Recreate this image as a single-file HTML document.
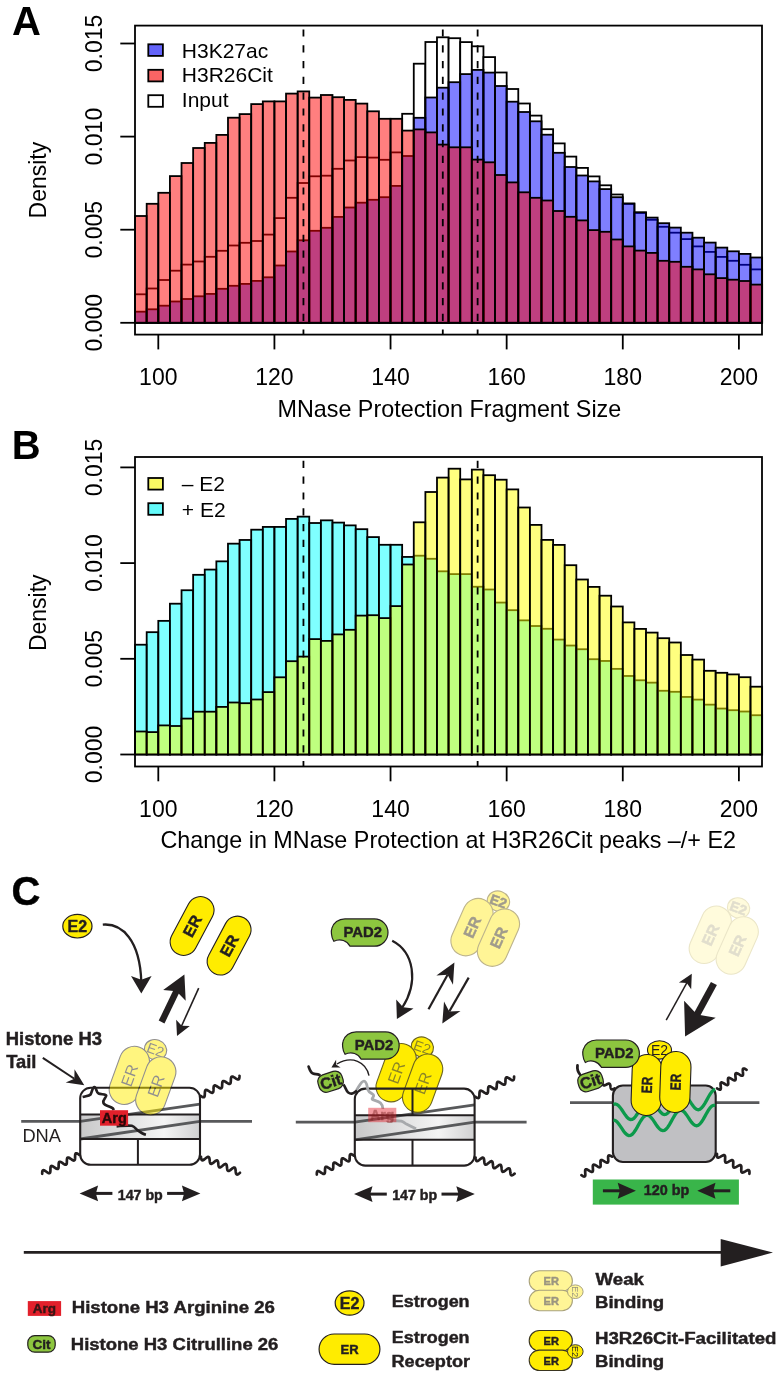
<!DOCTYPE html>
<html><head><meta charset="utf-8"><style>
html,body{margin:0;padding:0;background:#fff;}
svg{display:block;will-change:transform;}
text{font-family:"Liberation Sans", sans-serif;}
</style></head><body>
<svg width="783" height="1379" viewBox="0 0 783 1379">
<rect x="135.08" y="294.30" width="11.612" height="28.50" fill="#fff" fill-opacity="1" stroke="#000" stroke-width="1.8"/>
<rect x="146.69" y="288.50" width="11.612" height="34.30" fill="#fff" fill-opacity="1" stroke="#000" stroke-width="1.8"/>
<rect x="158.30" y="280.00" width="11.612" height="42.80" fill="#fff" fill-opacity="1" stroke="#000" stroke-width="1.8"/>
<rect x="169.92" y="270.70" width="11.612" height="52.10" fill="#fff" fill-opacity="1" stroke="#000" stroke-width="1.8"/>
<rect x="181.53" y="264.60" width="11.612" height="58.20" fill="#fff" fill-opacity="1" stroke="#000" stroke-width="1.8"/>
<rect x="193.14" y="261.50" width="11.612" height="61.30" fill="#fff" fill-opacity="1" stroke="#000" stroke-width="1.8"/>
<rect x="204.75" y="256.80" width="11.612" height="66.00" fill="#fff" fill-opacity="1" stroke="#000" stroke-width="1.8"/>
<rect x="216.36" y="250.80" width="11.612" height="72.00" fill="#fff" fill-opacity="1" stroke="#000" stroke-width="1.8"/>
<rect x="227.98" y="245.50" width="11.612" height="77.30" fill="#fff" fill-opacity="1" stroke="#000" stroke-width="1.8"/>
<rect x="239.59" y="242.80" width="11.612" height="80.00" fill="#fff" fill-opacity="1" stroke="#000" stroke-width="1.8"/>
<rect x="251.20" y="241.00" width="11.612" height="81.80" fill="#fff" fill-opacity="1" stroke="#000" stroke-width="1.8"/>
<rect x="262.81" y="234.60" width="11.612" height="88.20" fill="#fff" fill-opacity="1" stroke="#000" stroke-width="1.8"/>
<rect x="274.42" y="218.10" width="11.612" height="104.70" fill="#fff" fill-opacity="1" stroke="#000" stroke-width="1.8"/>
<rect x="286.04" y="197.80" width="11.612" height="125.00" fill="#fff" fill-opacity="1" stroke="#000" stroke-width="1.8"/>
<rect x="297.65" y="183.00" width="11.612" height="139.80" fill="#fff" fill-opacity="1" stroke="#000" stroke-width="1.8"/>
<rect x="309.26" y="176.30" width="11.612" height="146.50" fill="#fff" fill-opacity="1" stroke="#000" stroke-width="1.8"/>
<rect x="320.87" y="175.70" width="11.612" height="147.10" fill="#fff" fill-opacity="1" stroke="#000" stroke-width="1.8"/>
<rect x="332.48" y="168.80" width="11.612" height="154.00" fill="#fff" fill-opacity="1" stroke="#000" stroke-width="1.8"/>
<rect x="344.10" y="160.50" width="11.612" height="162.30" fill="#fff" fill-opacity="1" stroke="#000" stroke-width="1.8"/>
<rect x="355.71" y="157.10" width="11.612" height="165.70" fill="#fff" fill-opacity="1" stroke="#000" stroke-width="1.8"/>
<rect x="367.32" y="157.60" width="11.612" height="165.20" fill="#fff" fill-opacity="1" stroke="#000" stroke-width="1.8"/>
<rect x="378.93" y="159.80" width="11.612" height="163.00" fill="#fff" fill-opacity="1" stroke="#000" stroke-width="1.8"/>
<rect x="390.54" y="152.40" width="11.612" height="170.40" fill="#fff" fill-opacity="1" stroke="#000" stroke-width="1.8"/>
<rect x="402.16" y="113.80" width="11.612" height="209.00" fill="#fff" fill-opacity="1" stroke="#000" stroke-width="1.8"/>
<rect x="413.77" y="63.70" width="11.612" height="259.10" fill="#fff" fill-opacity="1" stroke="#000" stroke-width="1.8"/>
<rect x="425.38" y="42.00" width="11.612" height="280.80" fill="#fff" fill-opacity="1" stroke="#000" stroke-width="1.8"/>
<rect x="436.99" y="37.30" width="11.612" height="285.50" fill="#fff" fill-opacity="1" stroke="#000" stroke-width="1.8"/>
<rect x="448.60" y="38.20" width="11.612" height="284.60" fill="#fff" fill-opacity="1" stroke="#000" stroke-width="1.8"/>
<rect x="460.22" y="42.10" width="11.612" height="280.70" fill="#fff" fill-opacity="1" stroke="#000" stroke-width="1.8"/>
<rect x="471.83" y="46.30" width="11.612" height="276.50" fill="#fff" fill-opacity="1" stroke="#000" stroke-width="1.8"/>
<rect x="483.44" y="57.10" width="11.612" height="265.70" fill="#fff" fill-opacity="1" stroke="#000" stroke-width="1.8"/>
<rect x="495.05" y="72.50" width="11.612" height="250.30" fill="#fff" fill-opacity="1" stroke="#000" stroke-width="1.8"/>
<rect x="506.66" y="89.00" width="11.612" height="233.80" fill="#fff" fill-opacity="1" stroke="#000" stroke-width="1.8"/>
<rect x="518.28" y="103.50" width="11.612" height="219.30" fill="#fff" fill-opacity="1" stroke="#000" stroke-width="1.8"/>
<rect x="529.89" y="115.60" width="11.612" height="207.20" fill="#fff" fill-opacity="1" stroke="#000" stroke-width="1.8"/>
<rect x="541.50" y="129.20" width="11.612" height="193.60" fill="#fff" fill-opacity="1" stroke="#000" stroke-width="1.8"/>
<rect x="553.11" y="143.40" width="11.612" height="179.40" fill="#fff" fill-opacity="1" stroke="#000" stroke-width="1.8"/>
<rect x="564.72" y="156.60" width="11.612" height="166.20" fill="#fff" fill-opacity="1" stroke="#000" stroke-width="1.8"/>
<rect x="576.34" y="167.90" width="11.612" height="154.90" fill="#fff" fill-opacity="1" stroke="#000" stroke-width="1.8"/>
<rect x="587.95" y="176.40" width="11.612" height="146.40" fill="#fff" fill-opacity="1" stroke="#000" stroke-width="1.8"/>
<rect x="599.56" y="185.30" width="11.612" height="137.50" fill="#fff" fill-opacity="1" stroke="#000" stroke-width="1.8"/>
<rect x="611.17" y="194.50" width="11.612" height="128.30" fill="#fff" fill-opacity="1" stroke="#000" stroke-width="1.8"/>
<rect x="622.78" y="204.00" width="11.612" height="118.80" fill="#fff" fill-opacity="1" stroke="#000" stroke-width="1.8"/>
<rect x="634.40" y="213.00" width="11.612" height="109.80" fill="#fff" fill-opacity="1" stroke="#000" stroke-width="1.8"/>
<rect x="646.01" y="219.80" width="11.612" height="103.00" fill="#fff" fill-opacity="1" stroke="#000" stroke-width="1.8"/>
<rect x="657.62" y="226.80" width="11.612" height="96.00" fill="#fff" fill-opacity="1" stroke="#000" stroke-width="1.8"/>
<rect x="669.23" y="232.70" width="11.612" height="90.10" fill="#fff" fill-opacity="1" stroke="#000" stroke-width="1.8"/>
<rect x="680.84" y="239.10" width="11.612" height="83.70" fill="#fff" fill-opacity="1" stroke="#000" stroke-width="1.8"/>
<rect x="692.46" y="246.40" width="11.612" height="76.40" fill="#fff" fill-opacity="1" stroke="#000" stroke-width="1.8"/>
<rect x="704.07" y="251.90" width="11.612" height="70.90" fill="#fff" fill-opacity="1" stroke="#000" stroke-width="1.8"/>
<rect x="715.68" y="256.90" width="11.612" height="65.90" fill="#fff" fill-opacity="1" stroke="#000" stroke-width="1.8"/>
<rect x="727.29" y="260.80" width="11.612" height="62.00" fill="#fff" fill-opacity="1" stroke="#000" stroke-width="1.8"/>
<rect x="738.90" y="264.80" width="11.612" height="58.00" fill="#fff" fill-opacity="1" stroke="#000" stroke-width="1.8"/>
<rect x="750.52" y="269.40" width="11.612" height="53.40" fill="#fff" fill-opacity="1" stroke="#000" stroke-width="1.8"/>
<rect x="135.08" y="311.70" width="11.612" height="11.10" fill="#0000ff" fill-opacity="0.5" stroke="#000" stroke-width="1.8"/>
<rect x="146.69" y="309.30" width="11.612" height="13.50" fill="#0000ff" fill-opacity="0.5" stroke="#000" stroke-width="1.8"/>
<rect x="158.30" y="305.70" width="11.612" height="17.10" fill="#0000ff" fill-opacity="0.5" stroke="#000" stroke-width="1.8"/>
<rect x="169.92" y="301.50" width="11.612" height="21.30" fill="#0000ff" fill-opacity="0.5" stroke="#000" stroke-width="1.8"/>
<rect x="181.53" y="299.00" width="11.612" height="23.80" fill="#0000ff" fill-opacity="0.5" stroke="#000" stroke-width="1.8"/>
<rect x="193.14" y="296.30" width="11.612" height="26.50" fill="#0000ff" fill-opacity="0.5" stroke="#000" stroke-width="1.8"/>
<rect x="204.75" y="293.90" width="11.612" height="28.90" fill="#0000ff" fill-opacity="0.5" stroke="#000" stroke-width="1.8"/>
<rect x="216.36" y="288.80" width="11.612" height="34.00" fill="#0000ff" fill-opacity="0.5" stroke="#000" stroke-width="1.8"/>
<rect x="227.98" y="285.80" width="11.612" height="37.00" fill="#0000ff" fill-opacity="0.5" stroke="#000" stroke-width="1.8"/>
<rect x="239.59" y="283.90" width="11.612" height="38.90" fill="#0000ff" fill-opacity="0.5" stroke="#000" stroke-width="1.8"/>
<rect x="251.20" y="280.90" width="11.612" height="41.90" fill="#0000ff" fill-opacity="0.5" stroke="#000" stroke-width="1.8"/>
<rect x="262.81" y="277.30" width="11.612" height="45.50" fill="#0000ff" fill-opacity="0.5" stroke="#000" stroke-width="1.8"/>
<rect x="274.42" y="265.50" width="11.612" height="57.30" fill="#0000ff" fill-opacity="0.5" stroke="#000" stroke-width="1.8"/>
<rect x="286.04" y="251.50" width="11.612" height="71.30" fill="#0000ff" fill-opacity="0.5" stroke="#000" stroke-width="1.8"/>
<rect x="297.65" y="240.30" width="11.612" height="82.50" fill="#0000ff" fill-opacity="0.5" stroke="#000" stroke-width="1.8"/>
<rect x="309.26" y="230.80" width="11.612" height="92.00" fill="#0000ff" fill-opacity="0.5" stroke="#000" stroke-width="1.8"/>
<rect x="320.87" y="227.80" width="11.612" height="95.00" fill="#0000ff" fill-opacity="0.5" stroke="#000" stroke-width="1.8"/>
<rect x="332.48" y="216.90" width="11.612" height="105.90" fill="#0000ff" fill-opacity="0.5" stroke="#000" stroke-width="1.8"/>
<rect x="344.10" y="207.50" width="11.612" height="115.30" fill="#0000ff" fill-opacity="0.5" stroke="#000" stroke-width="1.8"/>
<rect x="355.71" y="202.70" width="11.612" height="120.10" fill="#0000ff" fill-opacity="0.5" stroke="#000" stroke-width="1.8"/>
<rect x="367.32" y="199.80" width="11.612" height="123.00" fill="#0000ff" fill-opacity="0.5" stroke="#000" stroke-width="1.8"/>
<rect x="378.93" y="197.20" width="11.612" height="125.60" fill="#0000ff" fill-opacity="0.5" stroke="#000" stroke-width="1.8"/>
<rect x="390.54" y="185.90" width="11.612" height="136.90" fill="#0000ff" fill-opacity="0.5" stroke="#000" stroke-width="1.8"/>
<rect x="402.16" y="156.00" width="11.612" height="166.80" fill="#0000ff" fill-opacity="0.5" stroke="#000" stroke-width="1.8"/>
<rect x="413.77" y="117.80" width="11.612" height="205.00" fill="#0000ff" fill-opacity="0.5" stroke="#000" stroke-width="1.8"/>
<rect x="425.38" y="97.50" width="11.612" height="225.30" fill="#0000ff" fill-opacity="0.5" stroke="#000" stroke-width="1.8"/>
<rect x="436.99" y="87.70" width="11.612" height="235.10" fill="#0000ff" fill-opacity="0.5" stroke="#000" stroke-width="1.8"/>
<rect x="448.60" y="82.20" width="11.612" height="240.60" fill="#0000ff" fill-opacity="0.5" stroke="#000" stroke-width="1.8"/>
<rect x="460.22" y="74.10" width="11.612" height="248.70" fill="#0000ff" fill-opacity="0.5" stroke="#000" stroke-width="1.8"/>
<rect x="471.83" y="69.90" width="11.612" height="252.90" fill="#0000ff" fill-opacity="0.5" stroke="#000" stroke-width="1.8"/>
<rect x="483.44" y="72.60" width="11.612" height="250.20" fill="#0000ff" fill-opacity="0.5" stroke="#000" stroke-width="1.8"/>
<rect x="495.05" y="86.00" width="11.612" height="236.80" fill="#0000ff" fill-opacity="0.5" stroke="#000" stroke-width="1.8"/>
<rect x="506.66" y="101.70" width="11.612" height="221.10" fill="#0000ff" fill-opacity="0.5" stroke="#000" stroke-width="1.8"/>
<rect x="518.28" y="112.00" width="11.612" height="210.80" fill="#0000ff" fill-opacity="0.5" stroke="#000" stroke-width="1.8"/>
<rect x="529.89" y="121.30" width="11.612" height="201.50" fill="#0000ff" fill-opacity="0.5" stroke="#000" stroke-width="1.8"/>
<rect x="541.50" y="134.70" width="11.612" height="188.10" fill="#0000ff" fill-opacity="0.5" stroke="#000" stroke-width="1.8"/>
<rect x="553.11" y="152.80" width="11.612" height="170.00" fill="#0000ff" fill-opacity="0.5" stroke="#000" stroke-width="1.8"/>
<rect x="564.72" y="167.00" width="11.612" height="155.80" fill="#0000ff" fill-opacity="0.5" stroke="#000" stroke-width="1.8"/>
<rect x="576.34" y="175.50" width="11.612" height="147.30" fill="#0000ff" fill-opacity="0.5" stroke="#000" stroke-width="1.8"/>
<rect x="587.95" y="181.40" width="11.612" height="141.40" fill="#0000ff" fill-opacity="0.5" stroke="#000" stroke-width="1.8"/>
<rect x="599.56" y="189.10" width="11.612" height="133.70" fill="#0000ff" fill-opacity="0.5" stroke="#000" stroke-width="1.8"/>
<rect x="611.17" y="197.20" width="11.612" height="125.60" fill="#0000ff" fill-opacity="0.5" stroke="#000" stroke-width="1.8"/>
<rect x="622.78" y="203.40" width="11.612" height="119.40" fill="#0000ff" fill-opacity="0.5" stroke="#000" stroke-width="1.8"/>
<rect x="634.40" y="212.20" width="11.612" height="110.60" fill="#0000ff" fill-opacity="0.5" stroke="#000" stroke-width="1.8"/>
<rect x="646.01" y="217.60" width="11.612" height="105.20" fill="#0000ff" fill-opacity="0.5" stroke="#000" stroke-width="1.8"/>
<rect x="657.62" y="223.20" width="11.612" height="99.60" fill="#0000ff" fill-opacity="0.5" stroke="#000" stroke-width="1.8"/>
<rect x="669.23" y="227.60" width="11.612" height="95.20" fill="#0000ff" fill-opacity="0.5" stroke="#000" stroke-width="1.8"/>
<rect x="680.84" y="232.70" width="11.612" height="90.10" fill="#0000ff" fill-opacity="0.5" stroke="#000" stroke-width="1.8"/>
<rect x="692.46" y="237.70" width="11.612" height="85.10" fill="#0000ff" fill-opacity="0.5" stroke="#000" stroke-width="1.8"/>
<rect x="704.07" y="242.60" width="11.612" height="80.20" fill="#0000ff" fill-opacity="0.5" stroke="#000" stroke-width="1.8"/>
<rect x="715.68" y="247.60" width="11.612" height="75.20" fill="#0000ff" fill-opacity="0.5" stroke="#000" stroke-width="1.8"/>
<rect x="727.29" y="251.30" width="11.612" height="71.50" fill="#0000ff" fill-opacity="0.5" stroke="#000" stroke-width="1.8"/>
<rect x="738.90" y="253.90" width="11.612" height="68.90" fill="#0000ff" fill-opacity="0.5" stroke="#000" stroke-width="1.8"/>
<rect x="750.52" y="257.50" width="11.612" height="65.30" fill="#0000ff" fill-opacity="0.5" stroke="#000" stroke-width="1.8"/>
<rect x="135.08" y="216.00" width="11.612" height="106.80" fill="#ff0000" fill-opacity="0.5" stroke="#000" stroke-width="1.8"/>
<rect x="146.69" y="203.80" width="11.612" height="119.00" fill="#ff0000" fill-opacity="0.5" stroke="#000" stroke-width="1.8"/>
<rect x="158.30" y="192.80" width="11.612" height="130.00" fill="#ff0000" fill-opacity="0.5" stroke="#000" stroke-width="1.8"/>
<rect x="169.92" y="176.10" width="11.612" height="146.70" fill="#ff0000" fill-opacity="0.5" stroke="#000" stroke-width="1.8"/>
<rect x="181.53" y="163.00" width="11.612" height="159.80" fill="#ff0000" fill-opacity="0.5" stroke="#000" stroke-width="1.8"/>
<rect x="193.14" y="148.00" width="11.612" height="174.80" fill="#ff0000" fill-opacity="0.5" stroke="#000" stroke-width="1.8"/>
<rect x="204.75" y="142.90" width="11.612" height="179.90" fill="#ff0000" fill-opacity="0.5" stroke="#000" stroke-width="1.8"/>
<rect x="216.36" y="134.90" width="11.612" height="187.90" fill="#ff0000" fill-opacity="0.5" stroke="#000" stroke-width="1.8"/>
<rect x="227.98" y="117.70" width="11.612" height="205.10" fill="#ff0000" fill-opacity="0.5" stroke="#000" stroke-width="1.8"/>
<rect x="239.59" y="114.10" width="11.612" height="208.70" fill="#ff0000" fill-opacity="0.5" stroke="#000" stroke-width="1.8"/>
<rect x="251.20" y="104.10" width="11.612" height="218.70" fill="#ff0000" fill-opacity="0.5" stroke="#000" stroke-width="1.8"/>
<rect x="262.81" y="101.40" width="11.612" height="221.40" fill="#ff0000" fill-opacity="0.5" stroke="#000" stroke-width="1.8"/>
<rect x="274.42" y="101.40" width="11.612" height="221.40" fill="#ff0000" fill-opacity="0.5" stroke="#000" stroke-width="1.8"/>
<rect x="286.04" y="93.60" width="11.612" height="229.20" fill="#ff0000" fill-opacity="0.5" stroke="#000" stroke-width="1.8"/>
<rect x="297.65" y="91.40" width="11.612" height="231.40" fill="#ff0000" fill-opacity="0.5" stroke="#000" stroke-width="1.8"/>
<rect x="309.26" y="97.60" width="11.612" height="225.20" fill="#ff0000" fill-opacity="0.5" stroke="#000" stroke-width="1.8"/>
<rect x="320.87" y="95.00" width="11.612" height="227.80" fill="#ff0000" fill-opacity="0.5" stroke="#000" stroke-width="1.8"/>
<rect x="332.48" y="97.20" width="11.612" height="225.60" fill="#ff0000" fill-opacity="0.5" stroke="#000" stroke-width="1.8"/>
<rect x="344.10" y="99.90" width="11.612" height="222.90" fill="#ff0000" fill-opacity="0.5" stroke="#000" stroke-width="1.8"/>
<rect x="355.71" y="103.60" width="11.612" height="219.20" fill="#ff0000" fill-opacity="0.5" stroke="#000" stroke-width="1.8"/>
<rect x="367.32" y="111.30" width="11.612" height="211.50" fill="#ff0000" fill-opacity="0.5" stroke="#000" stroke-width="1.8"/>
<rect x="378.93" y="118.80" width="11.612" height="204.00" fill="#ff0000" fill-opacity="0.5" stroke="#000" stroke-width="1.8"/>
<rect x="390.54" y="118.80" width="11.612" height="204.00" fill="#ff0000" fill-opacity="0.5" stroke="#000" stroke-width="1.8"/>
<rect x="402.16" y="130.60" width="11.612" height="192.20" fill="#ff0000" fill-opacity="0.5" stroke="#000" stroke-width="1.8"/>
<rect x="413.77" y="129.40" width="11.612" height="193.40" fill="#ff0000" fill-opacity="0.5" stroke="#000" stroke-width="1.8"/>
<rect x="425.38" y="132.40" width="11.612" height="190.40" fill="#ff0000" fill-opacity="0.5" stroke="#000" stroke-width="1.8"/>
<rect x="436.99" y="144.60" width="11.612" height="178.20" fill="#ff0000" fill-opacity="0.5" stroke="#000" stroke-width="1.8"/>
<rect x="448.60" y="147.30" width="11.612" height="175.50" fill="#ff0000" fill-opacity="0.5" stroke="#000" stroke-width="1.8"/>
<rect x="460.22" y="147.30" width="11.612" height="175.50" fill="#ff0000" fill-opacity="0.5" stroke="#000" stroke-width="1.8"/>
<rect x="471.83" y="159.60" width="11.612" height="163.20" fill="#ff0000" fill-opacity="0.5" stroke="#000" stroke-width="1.8"/>
<rect x="483.44" y="162.30" width="11.612" height="160.50" fill="#ff0000" fill-opacity="0.5" stroke="#000" stroke-width="1.8"/>
<rect x="495.05" y="175.00" width="11.612" height="147.80" fill="#ff0000" fill-opacity="0.5" stroke="#000" stroke-width="1.8"/>
<rect x="506.66" y="182.40" width="11.612" height="140.40" fill="#ff0000" fill-opacity="0.5" stroke="#000" stroke-width="1.8"/>
<rect x="518.28" y="192.30" width="11.612" height="130.50" fill="#ff0000" fill-opacity="0.5" stroke="#000" stroke-width="1.8"/>
<rect x="529.89" y="197.80" width="11.612" height="125.00" fill="#ff0000" fill-opacity="0.5" stroke="#000" stroke-width="1.8"/>
<rect x="541.50" y="200.50" width="11.612" height="122.30" fill="#ff0000" fill-opacity="0.5" stroke="#000" stroke-width="1.8"/>
<rect x="553.11" y="211.00" width="11.612" height="111.80" fill="#ff0000" fill-opacity="0.5" stroke="#000" stroke-width="1.8"/>
<rect x="564.72" y="216.80" width="11.612" height="106.00" fill="#ff0000" fill-opacity="0.5" stroke="#000" stroke-width="1.8"/>
<rect x="576.34" y="220.40" width="11.612" height="102.40" fill="#ff0000" fill-opacity="0.5" stroke="#000" stroke-width="1.8"/>
<rect x="587.95" y="230.10" width="11.612" height="92.70" fill="#ff0000" fill-opacity="0.5" stroke="#000" stroke-width="1.8"/>
<rect x="599.56" y="231.80" width="11.612" height="91.00" fill="#ff0000" fill-opacity="0.5" stroke="#000" stroke-width="1.8"/>
<rect x="611.17" y="239.50" width="11.612" height="83.30" fill="#ff0000" fill-opacity="0.5" stroke="#000" stroke-width="1.8"/>
<rect x="622.78" y="246.40" width="11.612" height="76.40" fill="#ff0000" fill-opacity="0.5" stroke="#000" stroke-width="1.8"/>
<rect x="634.40" y="250.60" width="11.612" height="72.20" fill="#ff0000" fill-opacity="0.5" stroke="#000" stroke-width="1.8"/>
<rect x="646.01" y="252.90" width="11.612" height="69.90" fill="#ff0000" fill-opacity="0.5" stroke="#000" stroke-width="1.8"/>
<rect x="657.62" y="260.80" width="11.612" height="62.00" fill="#ff0000" fill-opacity="0.5" stroke="#000" stroke-width="1.8"/>
<rect x="669.23" y="261.80" width="11.612" height="61.00" fill="#ff0000" fill-opacity="0.5" stroke="#000" stroke-width="1.8"/>
<rect x="680.84" y="266.80" width="11.612" height="56.00" fill="#ff0000" fill-opacity="0.5" stroke="#000" stroke-width="1.8"/>
<rect x="692.46" y="269.40" width="11.612" height="53.40" fill="#ff0000" fill-opacity="0.5" stroke="#000" stroke-width="1.8"/>
<rect x="704.07" y="274.30" width="11.612" height="48.50" fill="#ff0000" fill-opacity="0.5" stroke="#000" stroke-width="1.8"/>
<rect x="715.68" y="278.10" width="11.612" height="44.70" fill="#ff0000" fill-opacity="0.5" stroke="#000" stroke-width="1.8"/>
<rect x="727.29" y="279.70" width="11.612" height="43.10" fill="#ff0000" fill-opacity="0.5" stroke="#000" stroke-width="1.8"/>
<rect x="738.90" y="281.00" width="11.612" height="41.80" fill="#ff0000" fill-opacity="0.5" stroke="#000" stroke-width="1.8"/>
<rect x="750.52" y="284.60" width="11.612" height="38.20" fill="#ff0000" fill-opacity="0.5" stroke="#000" stroke-width="1.8"/>
<line x1="303.45" y1="25.6" x2="303.45" y2="334.6" stroke="#000" stroke-width="1.8" stroke-dasharray="7.2 8.6" stroke-dashoffset="12.0"/>
<line x1="442.79" y1="25.6" x2="442.79" y2="334.6" stroke="#000" stroke-width="1.8" stroke-dasharray="7.2 8.6" stroke-dashoffset="12.0"/>
<line x1="477.63" y1="25.6" x2="477.63" y2="334.6" stroke="#000" stroke-width="1.8" stroke-dasharray="7.2 8.6" stroke-dashoffset="12.0"/>
<rect x="135" y="25.6" width="627" height="309.00" fill="none" stroke="#000" stroke-width="1.8"/>
<line x1="120.3" y1="322.80" x2="135" y2="322.80" stroke="#000" stroke-width="1.8"/>
<text transform="translate(102,322.80) rotate(-90)" text-anchor="middle" font-size="23">0.000</text>
<line x1="120.3" y1="229.70" x2="135" y2="229.70" stroke="#000" stroke-width="1.8"/>
<text transform="translate(102,229.70) rotate(-90)" text-anchor="middle" font-size="23">0.005</text>
<line x1="120.3" y1="136.60" x2="135" y2="136.60" stroke="#000" stroke-width="1.8"/>
<text transform="translate(102,136.60) rotate(-90)" text-anchor="middle" font-size="23">0.010</text>
<line x1="120.3" y1="43.50" x2="135" y2="43.50" stroke="#000" stroke-width="1.8"/>
<text transform="translate(102,43.50) rotate(-90)" text-anchor="middle" font-size="23">0.015</text>
<line x1="158.30" y1="334.6" x2="158.30" y2="349.40" stroke="#000" stroke-width="1.8"/>
<text x="158.30" y="384.8" text-anchor="middle" font-size="23">100</text>
<line x1="274.42" y1="334.6" x2="274.42" y2="349.40" stroke="#000" stroke-width="1.8"/>
<text x="274.42" y="384.8" text-anchor="middle" font-size="23">120</text>
<line x1="390.54" y1="334.6" x2="390.54" y2="349.40" stroke="#000" stroke-width="1.8"/>
<text x="390.54" y="384.8" text-anchor="middle" font-size="23">140</text>
<line x1="506.66" y1="334.6" x2="506.66" y2="349.40" stroke="#000" stroke-width="1.8"/>
<text x="506.66" y="384.8" text-anchor="middle" font-size="23">160</text>
<line x1="622.78" y1="334.6" x2="622.78" y2="349.40" stroke="#000" stroke-width="1.8"/>
<text x="622.78" y="384.8" text-anchor="middle" font-size="23">180</text>
<line x1="738.90" y1="334.6" x2="738.90" y2="349.40" stroke="#000" stroke-width="1.8"/>
<text x="738.90" y="384.8" text-anchor="middle" font-size="23">200</text>
<text transform="translate(45.5,180.10) rotate(-90)" text-anchor="middle" font-size="23">Density</text>
<text x="449.35" y="416.8" text-anchor="middle" font-size="23.2" textLength="343.8" lengthAdjust="spacingAndGlyphs">MNase Protection Fragment Size</text>
<text x="12" y="34.8" font-size="40" font-weight="bold">A</text>
<rect x="148.3" y="44.30" width="14.6" height="11.6" fill="#6464fa" stroke="#000" stroke-width="1.8"/>
<text x="181.8" y="57.5" font-size="21">H3K27ac</text>
<rect x="148.3" y="69.80" width="14.6" height="11.6" fill="#fa6464" stroke="#000" stroke-width="1.8"/>
<text x="181.8" y="82.1" font-size="21">H3R26Cit</text>
<rect x="148.3" y="95.20" width="14.6" height="11.6" fill="#fff" stroke="#000" stroke-width="1.8"/>
<text x="181.8" y="107.4" font-size="21">Input</text>
<rect x="135.08" y="644.72" width="11.612" height="109.78" fill="#00ffff" fill-opacity="0.5" stroke="#000" stroke-width="1.8"/>
<rect x="146.69" y="632.18" width="11.612" height="122.32" fill="#00ffff" fill-opacity="0.5" stroke="#000" stroke-width="1.8"/>
<rect x="158.30" y="620.87" width="11.612" height="133.63" fill="#00ffff" fill-opacity="0.5" stroke="#000" stroke-width="1.8"/>
<rect x="169.92" y="603.70" width="11.612" height="150.80" fill="#00ffff" fill-opacity="0.5" stroke="#000" stroke-width="1.8"/>
<rect x="181.53" y="590.24" width="11.612" height="164.26" fill="#00ffff" fill-opacity="0.5" stroke="#000" stroke-width="1.8"/>
<rect x="193.14" y="574.82" width="11.612" height="179.68" fill="#00ffff" fill-opacity="0.5" stroke="#000" stroke-width="1.8"/>
<rect x="204.75" y="569.58" width="11.612" height="184.92" fill="#00ffff" fill-opacity="0.5" stroke="#000" stroke-width="1.8"/>
<rect x="216.36" y="561.35" width="11.612" height="193.15" fill="#00ffff" fill-opacity="0.5" stroke="#000" stroke-width="1.8"/>
<rect x="227.98" y="543.67" width="11.612" height="210.83" fill="#00ffff" fill-opacity="0.5" stroke="#000" stroke-width="1.8"/>
<rect x="239.59" y="539.97" width="11.612" height="214.53" fill="#00ffff" fill-opacity="0.5" stroke="#000" stroke-width="1.8"/>
<rect x="251.20" y="529.69" width="11.612" height="224.81" fill="#00ffff" fill-opacity="0.5" stroke="#000" stroke-width="1.8"/>
<rect x="262.81" y="526.92" width="11.612" height="227.58" fill="#00ffff" fill-opacity="0.5" stroke="#000" stroke-width="1.8"/>
<rect x="274.42" y="526.92" width="11.612" height="227.58" fill="#00ffff" fill-opacity="0.5" stroke="#000" stroke-width="1.8"/>
<rect x="286.04" y="518.90" width="11.612" height="235.60" fill="#00ffff" fill-opacity="0.5" stroke="#000" stroke-width="1.8"/>
<rect x="297.65" y="516.64" width="11.612" height="237.86" fill="#00ffff" fill-opacity="0.5" stroke="#000" stroke-width="1.8"/>
<rect x="309.26" y="523.01" width="11.612" height="231.49" fill="#00ffff" fill-opacity="0.5" stroke="#000" stroke-width="1.8"/>
<rect x="320.87" y="520.34" width="11.612" height="234.16" fill="#00ffff" fill-opacity="0.5" stroke="#000" stroke-width="1.8"/>
<rect x="332.48" y="522.60" width="11.612" height="231.90" fill="#00ffff" fill-opacity="0.5" stroke="#000" stroke-width="1.8"/>
<rect x="344.10" y="525.38" width="11.612" height="229.12" fill="#00ffff" fill-opacity="0.5" stroke="#000" stroke-width="1.8"/>
<rect x="355.71" y="529.18" width="11.612" height="225.32" fill="#00ffff" fill-opacity="0.5" stroke="#000" stroke-width="1.8"/>
<rect x="367.32" y="537.09" width="11.612" height="217.41" fill="#00ffff" fill-opacity="0.5" stroke="#000" stroke-width="1.8"/>
<rect x="378.93" y="544.80" width="11.612" height="209.70" fill="#00ffff" fill-opacity="0.5" stroke="#000" stroke-width="1.8"/>
<rect x="390.54" y="544.80" width="11.612" height="209.70" fill="#00ffff" fill-opacity="0.5" stroke="#000" stroke-width="1.8"/>
<rect x="402.16" y="556.93" width="11.612" height="197.57" fill="#00ffff" fill-opacity="0.5" stroke="#000" stroke-width="1.8"/>
<rect x="413.77" y="555.70" width="11.612" height="198.80" fill="#00ffff" fill-opacity="0.5" stroke="#000" stroke-width="1.8"/>
<rect x="425.38" y="558.78" width="11.612" height="195.72" fill="#00ffff" fill-opacity="0.5" stroke="#000" stroke-width="1.8"/>
<rect x="436.99" y="571.32" width="11.612" height="183.18" fill="#00ffff" fill-opacity="0.5" stroke="#000" stroke-width="1.8"/>
<rect x="448.60" y="574.10" width="11.612" height="180.40" fill="#00ffff" fill-opacity="0.5" stroke="#000" stroke-width="1.8"/>
<rect x="460.22" y="574.10" width="11.612" height="180.40" fill="#00ffff" fill-opacity="0.5" stroke="#000" stroke-width="1.8"/>
<rect x="471.83" y="586.74" width="11.612" height="167.76" fill="#00ffff" fill-opacity="0.5" stroke="#000" stroke-width="1.8"/>
<rect x="483.44" y="589.52" width="11.612" height="164.98" fill="#00ffff" fill-opacity="0.5" stroke="#000" stroke-width="1.8"/>
<rect x="495.05" y="602.57" width="11.612" height="151.93" fill="#00ffff" fill-opacity="0.5" stroke="#000" stroke-width="1.8"/>
<rect x="506.66" y="610.18" width="11.612" height="144.32" fill="#00ffff" fill-opacity="0.5" stroke="#000" stroke-width="1.8"/>
<rect x="518.28" y="620.36" width="11.612" height="134.14" fill="#00ffff" fill-opacity="0.5" stroke="#000" stroke-width="1.8"/>
<rect x="529.89" y="626.01" width="11.612" height="128.49" fill="#00ffff" fill-opacity="0.5" stroke="#000" stroke-width="1.8"/>
<rect x="541.50" y="628.78" width="11.612" height="125.72" fill="#00ffff" fill-opacity="0.5" stroke="#000" stroke-width="1.8"/>
<rect x="553.11" y="639.58" width="11.612" height="114.92" fill="#00ffff" fill-opacity="0.5" stroke="#000" stroke-width="1.8"/>
<rect x="564.72" y="645.54" width="11.612" height="108.96" fill="#00ffff" fill-opacity="0.5" stroke="#000" stroke-width="1.8"/>
<rect x="576.34" y="649.24" width="11.612" height="105.26" fill="#00ffff" fill-opacity="0.5" stroke="#000" stroke-width="1.8"/>
<rect x="587.95" y="659.21" width="11.612" height="95.29" fill="#00ffff" fill-opacity="0.5" stroke="#000" stroke-width="1.8"/>
<rect x="599.56" y="660.96" width="11.612" height="93.54" fill="#00ffff" fill-opacity="0.5" stroke="#000" stroke-width="1.8"/>
<rect x="611.17" y="668.87" width="11.612" height="85.63" fill="#00ffff" fill-opacity="0.5" stroke="#000" stroke-width="1.8"/>
<rect x="622.78" y="675.97" width="11.612" height="78.53" fill="#00ffff" fill-opacity="0.5" stroke="#000" stroke-width="1.8"/>
<rect x="634.40" y="680.28" width="11.612" height="74.22" fill="#00ffff" fill-opacity="0.5" stroke="#000" stroke-width="1.8"/>
<rect x="646.01" y="682.65" width="11.612" height="71.85" fill="#00ffff" fill-opacity="0.5" stroke="#000" stroke-width="1.8"/>
<rect x="657.62" y="690.77" width="11.612" height="63.73" fill="#00ffff" fill-opacity="0.5" stroke="#000" stroke-width="1.8"/>
<rect x="669.23" y="691.80" width="11.612" height="62.70" fill="#00ffff" fill-opacity="0.5" stroke="#000" stroke-width="1.8"/>
<rect x="680.84" y="696.94" width="11.612" height="57.56" fill="#00ffff" fill-opacity="0.5" stroke="#000" stroke-width="1.8"/>
<rect x="692.46" y="699.61" width="11.612" height="54.89" fill="#00ffff" fill-opacity="0.5" stroke="#000" stroke-width="1.8"/>
<rect x="704.07" y="704.65" width="11.612" height="49.85" fill="#00ffff" fill-opacity="0.5" stroke="#000" stroke-width="1.8"/>
<rect x="715.68" y="708.55" width="11.612" height="45.95" fill="#00ffff" fill-opacity="0.5" stroke="#000" stroke-width="1.8"/>
<rect x="727.29" y="710.20" width="11.612" height="44.30" fill="#00ffff" fill-opacity="0.5" stroke="#000" stroke-width="1.8"/>
<rect x="738.90" y="711.53" width="11.612" height="42.97" fill="#00ffff" fill-opacity="0.5" stroke="#000" stroke-width="1.8"/>
<rect x="750.52" y="715.23" width="11.612" height="39.27" fill="#00ffff" fill-opacity="0.5" stroke="#000" stroke-width="1.8"/>
<rect x="135.08" y="731.50" width="11.612" height="23.00" fill="#ffff00" fill-opacity="0.5" stroke="#000" stroke-width="1.8"/>
<rect x="146.69" y="732.10" width="11.612" height="22.40" fill="#ffff00" fill-opacity="0.5" stroke="#000" stroke-width="1.8"/>
<rect x="158.30" y="725.40" width="11.612" height="29.10" fill="#ffff00" fill-opacity="0.5" stroke="#000" stroke-width="1.8"/>
<rect x="169.92" y="726.00" width="11.612" height="28.50" fill="#ffff00" fill-opacity="0.5" stroke="#000" stroke-width="1.8"/>
<rect x="181.53" y="718.60" width="11.612" height="35.90" fill="#ffff00" fill-opacity="0.5" stroke="#000" stroke-width="1.8"/>
<rect x="193.14" y="711.70" width="11.612" height="42.80" fill="#ffff00" fill-opacity="0.5" stroke="#000" stroke-width="1.8"/>
<rect x="204.75" y="711.70" width="11.612" height="42.80" fill="#ffff00" fill-opacity="0.5" stroke="#000" stroke-width="1.8"/>
<rect x="216.36" y="706.90" width="11.612" height="47.60" fill="#ffff00" fill-opacity="0.5" stroke="#000" stroke-width="1.8"/>
<rect x="227.98" y="702.50" width="11.612" height="52.00" fill="#ffff00" fill-opacity="0.5" stroke="#000" stroke-width="1.8"/>
<rect x="239.59" y="703.20" width="11.612" height="51.30" fill="#ffff00" fill-opacity="0.5" stroke="#000" stroke-width="1.8"/>
<rect x="251.20" y="699.50" width="11.612" height="55.00" fill="#ffff00" fill-opacity="0.5" stroke="#000" stroke-width="1.8"/>
<rect x="262.81" y="692.10" width="11.612" height="62.40" fill="#ffff00" fill-opacity="0.5" stroke="#000" stroke-width="1.8"/>
<rect x="274.42" y="677.30" width="11.612" height="77.20" fill="#ffff00" fill-opacity="0.5" stroke="#000" stroke-width="1.8"/>
<rect x="286.04" y="661.20" width="11.612" height="93.30" fill="#ffff00" fill-opacity="0.5" stroke="#000" stroke-width="1.8"/>
<rect x="297.65" y="656.60" width="11.612" height="97.90" fill="#ffff00" fill-opacity="0.5" stroke="#000" stroke-width="1.8"/>
<rect x="309.26" y="639.10" width="11.612" height="115.40" fill="#ffff00" fill-opacity="0.5" stroke="#000" stroke-width="1.8"/>
<rect x="320.87" y="640.90" width="11.612" height="113.60" fill="#ffff00" fill-opacity="0.5" stroke="#000" stroke-width="1.8"/>
<rect x="332.48" y="634.40" width="11.612" height="120.10" fill="#ffff00" fill-opacity="0.5" stroke="#000" stroke-width="1.8"/>
<rect x="344.10" y="629.80" width="11.612" height="124.70" fill="#ffff00" fill-opacity="0.5" stroke="#000" stroke-width="1.8"/>
<rect x="355.71" y="615.60" width="11.612" height="138.90" fill="#ffff00" fill-opacity="0.5" stroke="#000" stroke-width="1.8"/>
<rect x="367.32" y="615.20" width="11.612" height="139.30" fill="#ffff00" fill-opacity="0.5" stroke="#000" stroke-width="1.8"/>
<rect x="378.93" y="618.10" width="11.612" height="136.40" fill="#ffff00" fill-opacity="0.5" stroke="#000" stroke-width="1.8"/>
<rect x="390.54" y="606.10" width="11.612" height="148.40" fill="#ffff00" fill-opacity="0.5" stroke="#000" stroke-width="1.8"/>
<rect x="402.16" y="564.50" width="11.612" height="190.00" fill="#ffff00" fill-opacity="0.5" stroke="#000" stroke-width="1.8"/>
<rect x="413.77" y="522.30" width="11.612" height="232.20" fill="#ffff00" fill-opacity="0.5" stroke="#000" stroke-width="1.8"/>
<rect x="425.38" y="492.00" width="11.612" height="262.50" fill="#ffff00" fill-opacity="0.5" stroke="#000" stroke-width="1.8"/>
<rect x="436.99" y="477.60" width="11.612" height="276.90" fill="#ffff00" fill-opacity="0.5" stroke="#000" stroke-width="1.8"/>
<rect x="448.60" y="468.70" width="11.612" height="285.80" fill="#ffff00" fill-opacity="0.5" stroke="#000" stroke-width="1.8"/>
<rect x="460.22" y="479.40" width="11.612" height="275.10" fill="#ffff00" fill-opacity="0.5" stroke="#000" stroke-width="1.8"/>
<rect x="471.83" y="469.60" width="11.612" height="284.90" fill="#ffff00" fill-opacity="0.5" stroke="#000" stroke-width="1.8"/>
<rect x="483.44" y="475.20" width="11.612" height="279.30" fill="#ffff00" fill-opacity="0.5" stroke="#000" stroke-width="1.8"/>
<rect x="495.05" y="479.70" width="11.612" height="274.80" fill="#ffff00" fill-opacity="0.5" stroke="#000" stroke-width="1.8"/>
<rect x="506.66" y="489.40" width="11.612" height="265.10" fill="#ffff00" fill-opacity="0.5" stroke="#000" stroke-width="1.8"/>
<rect x="518.28" y="507.50" width="11.612" height="247.00" fill="#ffff00" fill-opacity="0.5" stroke="#000" stroke-width="1.8"/>
<rect x="529.89" y="524.90" width="11.612" height="229.60" fill="#ffff00" fill-opacity="0.5" stroke="#000" stroke-width="1.8"/>
<rect x="541.50" y="539.90" width="11.612" height="214.60" fill="#ffff00" fill-opacity="0.5" stroke="#000" stroke-width="1.8"/>
<rect x="553.11" y="544.90" width="11.612" height="209.60" fill="#ffff00" fill-opacity="0.5" stroke="#000" stroke-width="1.8"/>
<rect x="564.72" y="565.20" width="11.612" height="189.30" fill="#ffff00" fill-opacity="0.5" stroke="#000" stroke-width="1.8"/>
<rect x="576.34" y="579.50" width="11.612" height="175.00" fill="#ffff00" fill-opacity="0.5" stroke="#000" stroke-width="1.8"/>
<rect x="587.95" y="586.90" width="11.612" height="167.60" fill="#ffff00" fill-opacity="0.5" stroke="#000" stroke-width="1.8"/>
<rect x="599.56" y="595.70" width="11.612" height="158.80" fill="#ffff00" fill-opacity="0.5" stroke="#000" stroke-width="1.8"/>
<rect x="611.17" y="606.50" width="11.612" height="148.00" fill="#ffff00" fill-opacity="0.5" stroke="#000" stroke-width="1.8"/>
<rect x="622.78" y="622.40" width="11.612" height="132.10" fill="#ffff00" fill-opacity="0.5" stroke="#000" stroke-width="1.8"/>
<rect x="634.40" y="628.90" width="11.612" height="125.60" fill="#ffff00" fill-opacity="0.5" stroke="#000" stroke-width="1.8"/>
<rect x="646.01" y="632.60" width="11.612" height="121.90" fill="#ffff00" fill-opacity="0.5" stroke="#000" stroke-width="1.8"/>
<rect x="657.62" y="638.20" width="11.612" height="116.30" fill="#ffff00" fill-opacity="0.5" stroke="#000" stroke-width="1.8"/>
<rect x="669.23" y="642.50" width="11.612" height="112.00" fill="#ffff00" fill-opacity="0.5" stroke="#000" stroke-width="1.8"/>
<rect x="680.84" y="655.00" width="11.612" height="99.50" fill="#ffff00" fill-opacity="0.5" stroke="#000" stroke-width="1.8"/>
<rect x="692.46" y="659.60" width="11.612" height="94.90" fill="#ffff00" fill-opacity="0.5" stroke="#000" stroke-width="1.8"/>
<rect x="704.07" y="670.80" width="11.612" height="83.70" fill="#ffff00" fill-opacity="0.5" stroke="#000" stroke-width="1.8"/>
<rect x="715.68" y="672.80" width="11.612" height="81.70" fill="#ffff00" fill-opacity="0.5" stroke="#000" stroke-width="1.8"/>
<rect x="727.29" y="674.40" width="11.612" height="80.10" fill="#ffff00" fill-opacity="0.5" stroke="#000" stroke-width="1.8"/>
<rect x="738.90" y="677.20" width="11.612" height="77.30" fill="#ffff00" fill-opacity="0.5" stroke="#000" stroke-width="1.8"/>
<rect x="750.52" y="686.70" width="11.612" height="67.80" fill="#ffff00" fill-opacity="0.5" stroke="#000" stroke-width="1.8"/>
<line x1="303.45" y1="457.0" x2="303.45" y2="766.5" stroke="#000" stroke-width="1.8" stroke-dasharray="7.2 8.6" stroke-dashoffset="12.0"/>
<line x1="477.63" y1="457.0" x2="477.63" y2="766.5" stroke="#000" stroke-width="1.8" stroke-dasharray="7.2 8.6" stroke-dashoffset="12.0"/>
<rect x="135" y="457.0" width="627" height="309.50" fill="none" stroke="#000" stroke-width="1.8"/>
<line x1="120.3" y1="754.50" x2="135" y2="754.50" stroke="#000" stroke-width="1.8"/>
<text transform="translate(102,754.50) rotate(-90)" text-anchor="middle" font-size="23">0.000</text>
<line x1="120.3" y1="658.80" x2="135" y2="658.80" stroke="#000" stroke-width="1.8"/>
<text transform="translate(102,658.80) rotate(-90)" text-anchor="middle" font-size="23">0.005</text>
<line x1="120.3" y1="563.10" x2="135" y2="563.10" stroke="#000" stroke-width="1.8"/>
<text transform="translate(102,563.10) rotate(-90)" text-anchor="middle" font-size="23">0.010</text>
<line x1="120.3" y1="467.40" x2="135" y2="467.40" stroke="#000" stroke-width="1.8"/>
<text transform="translate(102,467.40) rotate(-90)" text-anchor="middle" font-size="23">0.015</text>
<line x1="158.30" y1="766.5" x2="158.30" y2="781.30" stroke="#000" stroke-width="1.8"/>
<text x="158.30" y="816.8" text-anchor="middle" font-size="23">100</text>
<line x1="274.42" y1="766.5" x2="274.42" y2="781.30" stroke="#000" stroke-width="1.8"/>
<text x="274.42" y="816.8" text-anchor="middle" font-size="23">120</text>
<line x1="390.54" y1="766.5" x2="390.54" y2="781.30" stroke="#000" stroke-width="1.8"/>
<text x="390.54" y="816.8" text-anchor="middle" font-size="23">140</text>
<line x1="506.66" y1="766.5" x2="506.66" y2="781.30" stroke="#000" stroke-width="1.8"/>
<text x="506.66" y="816.8" text-anchor="middle" font-size="23">160</text>
<line x1="622.78" y1="766.5" x2="622.78" y2="781.30" stroke="#000" stroke-width="1.8"/>
<text x="622.78" y="816.8" text-anchor="middle" font-size="23">180</text>
<line x1="738.90" y1="766.5" x2="738.90" y2="781.30" stroke="#000" stroke-width="1.8"/>
<text x="738.90" y="816.8" text-anchor="middle" font-size="23">200</text>
<text transform="translate(45.5,612.75) rotate(-90)" text-anchor="middle" font-size="23">Density</text>
<text x="448.25" y="848.4" text-anchor="middle" font-size="23.2" textLength="575.6" lengthAdjust="spacingAndGlyphs">Change in MNase Protection at H3R26Cit peaks –/+ E2</text>
<text x="11.7" y="458.7" font-size="40" font-weight="bold">B</text>
<rect x="148.3" y="478.00" width="14.6" height="11.6" fill="#fafa64" stroke="#000" stroke-width="1.8"/>
<text x="181.8" y="491.3" font-size="21">– E2</text>
<rect x="148.3" y="503.20" width="14.6" height="11.6" fill="#64fafa" stroke="#000" stroke-width="1.8"/>
<text x="181.8" y="516.5" font-size="21">+ E2</text>
<text x="11.5" y="904.5" font-size="40" font-weight="bold" fill="#000" stroke="#000" stroke-width="0.45">C</text>
<g opacity="1"><ellipse cx="77.40" cy="926.20" rx="14.6" ry="11.8" fill="#ffec00" stroke="#231f20" stroke-width="1.2" transform="rotate(0 77.40 926.20)"/>
<text transform="translate(77.40,926.20) rotate(0)" y="5.76" text-anchor="middle" font-size="16" font-weight="bold" fill="#231f20" stroke="#231f20" stroke-width="0.45">E2</text>
</g>
<path d="M102.8,924.6 C122,923 140,940 141.3,982" fill="none" stroke="#231f20" stroke-width="2.3"/>
<polygon points="141.30,993.50 131.00,976.00 141.30,979.67 151.60,976.00" fill="#231f20" />
<g opacity="1"><rect x="160.60" y="912.50" width="63.00" height="27.00" rx="13.50" fill="#ffec00" stroke="#231f20" stroke-width="1.1" stroke-opacity="1" transform="rotate(-62 192.10 926.00)"/>
<text transform="translate(192.10,926.00) rotate(-62)" y="5.76" text-anchor="middle" font-size="16" font-weight="bold" fill="#231f20" stroke="#231f20" stroke-width="0.45">ER</text>
</g>
<g opacity="1"><rect x="197.60" y="932.10" width="63.00" height="27.00" rx="13.50" fill="#ffec00" stroke="#231f20" stroke-width="1.1" stroke-opacity="1" transform="rotate(-62 229.10 945.60)"/>
<text transform="translate(229.10,945.60) rotate(-62)" y="5.76" text-anchor="middle" font-size="16" font-weight="bold" fill="#231f20" stroke="#231f20" stroke-width="0.45">ER</text>
</g>
<line x1="161.60" y1="1022.00" x2="177.42" y2="989.11" stroke="#231f20" stroke-width="6.4" />
<polygon points="184.40,974.60 185.69,1000.75 176.42,991.18 163.17,989.91" fill="#231f20" />
<line x1="198.70" y1="988.20" x2="181.20" y2="1026.76" stroke="#231f20" stroke-width="1.6" />
<polygon points="177.00,1036.00 176.16,1019.70 181.68,1025.70 189.82,1025.90" fill="#231f20" />
<defs><linearGradient id="g1" x1="0" x2="1" y1="0" y2="0"><stop offset="0" stop-color="#c8c8c9"/><stop offset="0.7" stop-color="#f4f4f4"/><stop offset="1" stop-color="#d0d0d1"/></linearGradient></defs>
<rect x="80.20" y="1087.80" width="119.8" height="77.0" rx="10.5" fill="#fff"/>
<rect x="80.20" y="1114.50" width="119.8" height="24.500000000000004" fill="url(#g1)"/>
<line x1="21.20" y1="1121.40" x2="80.20" y2="1121.40" stroke="#58595b" stroke-width="2.8"/>
<line x1="200.00" y1="1121.40" x2="252.00" y2="1121.40" stroke="#58595b" stroke-width="2.8"/>
<line x1="80.20" y1="1121.40" x2="200.00" y2="1104.10" stroke="#58595b" stroke-width="2.8"/>
<line x1="80.20" y1="1139.00" x2="200.00" y2="1121.40" stroke="#58595b" stroke-width="2.8"/>
<line x1="80.20" y1="1114.50" x2="200.00" y2="1114.50" stroke="#231f20" stroke-width="2"/>
<line x1="80.20" y1="1139.00" x2="200.00" y2="1139.00" stroke="#231f20" stroke-width="2"/>
<line x1="137.90" y1="1139.00" x2="137.90" y2="1164.80" stroke="#231f20" stroke-width="2"/>
<rect x="80.20" y="1087.80" width="119.8" height="77.0" rx="10.5" fill="none" stroke="#231f20" stroke-width="2.1"/>
<polyline points="79.20,1154.80 78.29,1154.18 77.44,1153.66 76.70,1153.34 76.09,1153.29 75.63,1153.54 75.33,1154.10 75.17,1154.92 75.10,1155.93 75.09,1157.04 75.06,1158.13 74.98,1159.10 74.79,1159.87 74.46,1160.36 73.97,1160.55 73.33,1160.43 72.55,1160.06 71.68,1159.51 70.77,1158.88 69.88,1158.27 69.05,1157.79 68.33,1157.53 67.75,1157.54 67.33,1157.87 67.07,1158.48 66.93,1159.35 66.88,1160.39 66.86,1161.51 66.83,1162.58 66.73,1163.52 66.51,1164.23 66.14,1164.65 65.62,1164.77 64.94,1164.59 64.14,1164.18 63.26,1163.60 62.35,1162.96 61.46,1162.37 60.65,1161.93 59.96,1161.73 59.42,1161.81 59.04,1162.20 58.80,1162.88 58.69,1163.80 58.65,1164.86 58.64,1165.97 58.59,1167.03 58.47,1167.92 58.22,1168.57 57.82,1168.93 57.26,1168.98 56.55,1168.74 55.73,1168.28 54.84,1167.68 53.93,1167.04 53.05,1166.48 52.27,1166.08 51.61,1165.94 51.10,1166.09 50.75,1166.55 50.55,1167.29 50.45,1168.24 50.42,1169.33 50.41,1170.44 50.35,1171.46 50.20,1172.31 49.92,1172.90 49.48,1173.19 48.89,1173.17 48.16,1172.88 47.31,1172.38 46.41,1171.76 45.50,1171.13 44.65,1170.60 43.88,1170.25 43.26,1170.17 42.79,1170.39 42.47,1170.91 42.29,1171.71 42.22,1172.70 42.20,1173.80" fill="none" stroke="#231f20" stroke-width="2.7" stroke-linejoin="round" stroke-linecap="round" />
<polyline points="201.00,1156.80 201.12,1157.90 201.28,1158.88 201.54,1159.66 201.90,1160.16 202.40,1160.34 203.02,1160.21 203.75,1159.80 204.57,1159.20 205.43,1158.50 206.28,1157.81 207.08,1157.24 207.80,1156.89 208.39,1156.83 208.86,1157.08 209.20,1157.65 209.42,1158.48 209.58,1159.50 209.69,1160.60 209.82,1161.68 210.00,1162.63 210.27,1163.35 210.67,1163.78 211.19,1163.89 211.84,1163.70 212.60,1163.24 213.43,1162.60 214.29,1161.90 215.13,1161.22 215.92,1160.70 216.61,1160.41 217.17,1160.41 217.61,1160.74 217.92,1161.37 218.13,1162.25 218.27,1163.29 218.38,1164.41 218.52,1165.47 218.72,1166.37 219.02,1167.03 219.44,1167.39 219.99,1167.43 220.67,1167.17 221.44,1166.67 222.28,1166.01 223.14,1165.29 223.98,1164.65 224.75,1164.17 225.41,1163.94 225.95,1164.01 226.36,1164.41 226.64,1165.10 226.83,1166.02 226.96,1167.10 227.08,1168.20 227.22,1169.24 227.44,1170.10 227.76,1170.69 228.22,1170.98 228.80,1170.95 229.50,1170.63 230.29,1170.08 231.14,1169.40 232.00,1168.70 232.82,1168.08 233.57,1167.65 234.21,1167.48 234.72,1167.63 235.10,1168.09 235.36,1168.84 235.53,1169.81 235.65,1170.90 235.77,1172.00 235.93,1173.00 236.17,1173.81 236.52,1174.34 237.00,1174.56 237.61,1174.46 238.33,1174.08 239.14,1173.50 240.00,1172.80" fill="none" stroke="#231f20" stroke-width="2.7" stroke-linejoin="round" stroke-linecap="round" />
<polyline points="200.50,1095.80 201.43,1096.41 202.30,1096.92 203.08,1097.22 203.71,1097.26 204.19,1096.99 204.51,1096.42 204.70,1095.59 204.79,1094.57 204.84,1093.45 204.89,1092.35 205.00,1091.36 205.21,1090.58 205.57,1090.08 206.08,1089.88 206.75,1089.98 207.55,1090.34 208.44,1090.87 209.38,1091.50 210.30,1092.09 211.15,1092.56 211.90,1092.81 212.50,1092.78 212.94,1092.45 213.23,1091.82 213.40,1090.93 213.47,1089.88 213.51,1088.76 213.57,1087.67 213.70,1086.72 213.94,1086.00 214.34,1085.56 214.88,1085.43 215.58,1085.59 216.41,1086.00 217.31,1086.56 218.25,1087.19 219.16,1087.77 220.00,1088.19 220.71,1088.39 221.28,1088.29 221.69,1087.89 221.95,1087.19 222.09,1086.27 222.15,1085.19 222.19,1084.06 222.26,1083.00 222.41,1082.09 222.68,1081.43 223.11,1081.06 223.69,1081.00 224.42,1081.22 225.27,1081.67 226.19,1082.26 227.12,1082.88 228.02,1083.43 228.83,1083.82 229.52,1083.95 230.05,1083.78 230.42,1083.31 230.65,1082.56 230.77,1081.59 230.83,1080.50 230.87,1079.37 230.95,1078.34 231.13,1077.48 231.43,1076.88 231.89,1076.58 232.51,1076.58 233.27,1076.86 234.14,1077.35 235.06,1077.95 235.99,1078.57 236.88,1079.09 237.66,1079.42 238.32,1079.49 238.81,1079.26 239.15,1078.72 239.35,1077.92 239.45,1076.91 239.50,1075.80" fill="none" stroke="#231f20" stroke-width="2.7" stroke-linejoin="round" stroke-linecap="round" />
<path d="M82.6,1097 C86,1096 89,1096 90.5,1094.5 C92,1092 92.5,1087 94.4,1087.1 C96.5,1087.2 96,1092.5 98.5,1093.5 C101,1094.5 106,1094 106.2,1095.5 C106.4,1097.5 102.5,1100 103.4,1102.7 C104.3,1105.5 110,1106.5 112.9,1108.4 L113.8,1110.2" fill="none" stroke="#231f20" stroke-width="2.7" stroke-linejoin="round"/>
<path d="M116.6,1126.3 C121,1126 128,1125 131.8,1125.8 C134.5,1126.5 136,1129 137.4,1130.1 C140,1132 143,1134 145.9,1134.8" fill="none" stroke="#231f20" stroke-width="2.7"/>
<rect x="100" y="1110.2" width="28.1" height="15.5" fill="#e2202b"/>
<text x="114.3" y="1122.5" text-anchor="middle" font-size="14.5" font-weight="bold" fill="#2a0808" stroke="#2a0808" stroke-width="0.4">Arg</text>
<g opacity="0.5">
<g opacity="1"><ellipse cx="155.50" cy="1049.75" rx="11.3" ry="10" fill="#ffec00" stroke="#231f20" stroke-width="1.1" transform="rotate(20 155.50 1049.75)"/>
<text transform="translate(155.50,1049.75) rotate(20)" y="5.04" text-anchor="middle" font-size="14" font-weight="normal" fill="#231f20">E2</text>
</g>
<g opacity="1"><rect x="99.30" y="1060.35" width="60.00" height="30.00" rx="15.00" fill="#ffec00" stroke="#231f20" stroke-width="1.1" stroke-opacity="1" transform="rotate(-70 129.30 1075.35)"/>
<text transform="translate(129.30,1075.35) rotate(-70)" y="5.76" text-anchor="middle" font-size="16" font-weight="normal" fill="#231f20">ER</text>
</g>
<g opacity="1"><rect x="125.80" y="1070.85" width="60.00" height="30.00" rx="15.00" fill="#ffec00" stroke="#231f20" stroke-width="1.1" stroke-opacity="1" transform="rotate(-70 155.80 1085.85)"/>
<text transform="translate(155.80,1085.85) rotate(-70)" y="5.76" text-anchor="middle" font-size="16" font-weight="normal" fill="#231f20">ER</text>
</g>
</g>
<text x="5.80" y="1045.00" font-size="18.1" font-weight="bold" fill="#231f20" text-anchor="start" textLength="96.2" lengthAdjust="spacingAndGlyphs"  stroke="#231f20" stroke-width="0.45">Histone H3</text>
<text x="6.20" y="1067.80" font-size="18.1" font-weight="bold" fill="#231f20" text-anchor="start" textLength="30.2" lengthAdjust="spacingAndGlyphs"  stroke="#231f20" stroke-width="0.45">Tail</text>
<line x1="42.80" y1="1057.90" x2="74.37" y2="1078.74" stroke="#231f20" stroke-width="2.0" />
<polygon points="84.30,1085.30 65.71,1082.61 74.37,1078.74 74.52,1069.26" fill="#231f20" />
<text x="22.40" y="1142.00" font-size="18.4" font-weight="normal" fill="#231f20" text-anchor="start" textLength="38.6" lengthAdjust="spacingAndGlyphs" >DNA</text>
<line x1="112.40" y1="1193.40" x2="92.55" y2="1193.40" stroke="#231f20" stroke-width="3.0" />
<polygon points="79.60,1193.40 98.10,1185.60 95.88,1193.40 98.10,1201.20" fill="#231f20" />
<line x1="167.10" y1="1193.40" x2="187.45" y2="1193.40" stroke="#231f20" stroke-width="3.0" />
<polygon points="200.40,1193.40 181.90,1201.20 184.12,1193.40 181.90,1185.60" fill="#231f20" />
<text x="140.25" y="1199.70" text-anchor="middle" font-size="14" font-weight="bold" fill="#231f20" textLength="45" lengthAdjust="spacingAndGlyphs" stroke="#231f20" stroke-width="0.45">147 bp</text>
<path d="M345.00,918.90 L374.35,918.90 A13.65,13.65 0 0 1 374.35,946.20 L350.00,946.20 C347.40,941.20 340.40,937.70 333.90,941.30 C330.90,937.20 331.10,930.20 331.90,928.20 C333.40,922.90 338.40,918.90 345.00,918.90 Z" fill="#8dc63f" stroke="#231f20" stroke-width="1.2"/>
<text x="362.80" y="937.30" text-anchor="middle" font-size="15.5" font-weight="bold" fill="#231f20" textLength="38.5" lengthAdjust="spacingAndGlyphs" stroke="#231f20" stroke-width="0.45">PAD2</text>
<path d="M392.2,940.7 C414,952 419,982 402,1008" fill="none" stroke="#231f20" stroke-width="2.2"/>
<polygon points="396.90,1019.00 396.23,999.39 403.13,1007.29 413.53,1008.59" fill="#231f20" />
<g opacity="1">
<g opacity="1"><ellipse cx="498.45" cy="901.10" rx="11.3" ry="10" fill="#fff596" stroke="#bdb48c" stroke-width="1.1" transform="rotate(20 498.45 901.10)"/>
<text transform="translate(498.45,901.10) rotate(20)" y="5.04" text-anchor="middle" font-size="14" font-weight="bold" fill="#a09b8c" stroke="#a09b8c" stroke-width="0.45">E2</text>
</g>
<g opacity="1"><rect x="441.95" y="912.10" width="60.00" height="30.00" rx="15.00" fill="#fff596" stroke="#bdb48c" stroke-width="1.1" stroke-opacity="1" transform="rotate(-66 471.95 927.10)"/>
<text transform="translate(471.95,927.10) rotate(-66)" y="5.58" text-anchor="middle" font-size="15.5" font-weight="bold" fill="#a09b8c" stroke="#a09b8c" stroke-width="0.45">ER</text>
</g>
<g opacity="1"><rect x="468.45" y="922.60" width="60.00" height="30.00" rx="15.00" fill="#fff596" stroke="#bdb48c" stroke-width="1.1" stroke-opacity="1" transform="rotate(-66 498.45 937.60)"/>
<text transform="translate(498.45,937.60) rotate(-66)" y="5.58" text-anchor="middle" font-size="15.5" font-weight="bold" fill="#a09b8c" stroke="#a09b8c" stroke-width="0.45">ER</text>
</g>
</g>
<line x1="428.50" y1="1009.20" x2="447.60" y2="974.84" stroke="#231f20" stroke-width="2.2" />
<polygon points="454.40,962.60 452.99,984.70 447.60,974.84 436.38,975.47" fill="#231f20" />
<line x1="468.70" y1="977.60" x2="449.27" y2="1011.46" stroke="#231f20" stroke-width="2.2" />
<polygon points="442.30,1023.60 444.02,1001.52 449.27,1011.46 460.49,1010.98" fill="#231f20" />
<defs><linearGradient id="g2" x1="0" x2="1" y1="0" y2="0"><stop offset="0" stop-color="#c8c8c9"/><stop offset="0.7" stop-color="#f4f4f4"/><stop offset="1" stop-color="#d0d0d1"/></linearGradient></defs>
<rect x="354.80" y="1088.60" width="119.8" height="77.0" rx="10.5" fill="#fff"/>
<rect x="354.80" y="1115.30" width="119.8" height="24.500000000000004" fill="url(#g2)"/>
<line x1="295.80" y1="1122.20" x2="354.80" y2="1122.20" stroke="#58595b" stroke-width="2.8"/>
<line x1="474.60" y1="1122.20" x2="526.60" y2="1122.20" stroke="#58595b" stroke-width="2.8"/>
<line x1="354.80" y1="1122.20" x2="474.60" y2="1104.90" stroke="#58595b" stroke-width="2.8"/>
<line x1="354.80" y1="1139.80" x2="474.60" y2="1122.20" stroke="#58595b" stroke-width="2.8"/>
<g opacity="1">
<g opacity="1"><ellipse cx="422.35" cy="1047.10" rx="11.3" ry="10" fill="#ffec00" stroke="#6b6420" stroke-width="1.1" transform="rotate(20 422.35 1047.10)"/>
<text transform="translate(422.35,1047.10) rotate(20)" y="5.04" text-anchor="middle" font-size="14" font-weight="normal" fill="#8c8526">E2</text>
</g>
<g opacity="1"><rect x="366.15" y="1057.70" width="60.00" height="30.00" rx="15.00" fill="#ffec00" stroke="#6b6420" stroke-width="1.1" stroke-opacity="1" transform="rotate(-70 396.15 1072.70)"/>
<text transform="translate(396.15,1072.70) rotate(-70)" y="5.76" text-anchor="middle" font-size="16" font-weight="normal" fill="#8c8526">ER</text>
</g>
<g opacity="1"><rect x="392.65" y="1068.20" width="60.00" height="30.00" rx="15.00" fill="#ffec00" stroke="#6b6420" stroke-width="1.1" stroke-opacity="1" transform="rotate(-70 422.65 1083.20)"/>
<text transform="translate(422.65,1083.20) rotate(-70)" y="5.76" text-anchor="middle" font-size="16" font-weight="normal" fill="#8c8526">ER</text>
</g>
</g>
<line x1="354.80" y1="1115.30" x2="474.60" y2="1115.30" stroke="#231f20" stroke-width="2"/>
<line x1="354.80" y1="1139.80" x2="474.60" y2="1139.80" stroke="#231f20" stroke-width="2"/>
<line x1="412.50" y1="1139.80" x2="412.50" y2="1165.60" stroke="#231f20" stroke-width="2"/>
<line x1="412.50" y1="1088.60" x2="412.50" y2="1115.30" stroke="#231f20" stroke-width="2"/>
<rect x="354.80" y="1088.60" width="119.8" height="77.0" rx="10.5" fill="none" stroke="#231f20" stroke-width="2.1"/>
<polyline points="353.80,1155.60 352.89,1154.98 352.04,1154.46 351.30,1154.14 350.69,1154.09 350.23,1154.34 349.93,1154.90 349.77,1155.72 349.70,1156.73 349.69,1157.84 349.66,1158.93 349.58,1159.90 349.39,1160.67 349.06,1161.16 348.57,1161.35 347.93,1161.23 347.15,1160.86 346.28,1160.31 345.37,1159.68 344.48,1159.07 343.65,1158.59 342.93,1158.33 342.35,1158.34 341.93,1158.67 341.67,1159.28 341.53,1160.15 341.48,1161.19 341.46,1162.31 341.43,1163.38 341.33,1164.32 341.11,1165.03 340.74,1165.45 340.22,1165.57 339.54,1165.39 338.74,1164.98 337.86,1164.40 336.95,1163.76 336.06,1163.17 335.25,1162.73 334.56,1162.53 334.02,1162.61 333.64,1163.00 333.40,1163.68 333.29,1164.60 333.25,1165.66 333.24,1166.77 333.19,1167.83 333.07,1168.72 332.82,1169.37 332.42,1169.73 331.86,1169.78 331.15,1169.54 330.33,1169.08 329.44,1168.48 328.53,1167.84 327.65,1167.28 326.87,1166.88 326.21,1166.74 325.70,1166.89 325.35,1167.35 325.15,1168.09 325.05,1169.04 325.02,1170.13 325.01,1171.24 324.95,1172.26 324.80,1173.11 324.52,1173.70 324.08,1173.99 323.49,1173.97 322.76,1173.68 321.91,1173.18 321.01,1172.56 320.10,1171.93 319.25,1171.40 318.48,1171.05 317.86,1170.97 317.39,1171.19 317.07,1171.71 316.89,1172.51 316.82,1173.50 316.80,1174.60" fill="none" stroke="#231f20" stroke-width="2.7" stroke-linejoin="round" stroke-linecap="round" />
<polyline points="475.60,1157.60 475.72,1158.70 475.88,1159.68 476.14,1160.46 476.50,1160.96 477.00,1161.14 477.62,1161.01 478.35,1160.60 479.17,1160.00 480.03,1159.30 480.88,1158.61 481.68,1158.04 482.40,1157.69 482.99,1157.63 483.46,1157.88 483.80,1158.45 484.02,1159.28 484.18,1160.30 484.29,1161.40 484.42,1162.48 484.60,1163.43 484.87,1164.15 485.27,1164.58 485.79,1164.69 486.44,1164.50 487.20,1164.04 488.03,1163.40 488.89,1162.70 489.73,1162.02 490.52,1161.50 491.21,1161.21 491.77,1161.21 492.21,1161.54 492.52,1162.17 492.73,1163.05 492.87,1164.09 492.98,1165.21 493.12,1166.27 493.32,1167.17 493.62,1167.83 494.04,1168.19 494.59,1168.23 495.27,1167.97 496.04,1167.47 496.88,1166.81 497.74,1166.09 498.58,1165.45 499.35,1164.97 500.01,1164.74 500.55,1164.81 500.96,1165.21 501.24,1165.90 501.43,1166.82 501.56,1167.90 501.68,1169.00 501.82,1170.04 502.04,1170.90 502.36,1171.49 502.82,1171.78 503.40,1171.75 504.10,1171.43 504.89,1170.88 505.74,1170.20 506.60,1169.50 507.42,1168.88 508.17,1168.45 508.81,1168.28 509.32,1168.43 509.70,1168.89 509.96,1169.64 510.13,1170.61 510.25,1171.70 510.37,1172.80 510.53,1173.80 510.77,1174.61 511.12,1175.14 511.60,1175.36 512.21,1175.26 512.93,1174.88 513.74,1174.30 514.60,1173.60" fill="none" stroke="#231f20" stroke-width="2.7" stroke-linejoin="round" stroke-linecap="round" />
<polyline points="475.10,1096.60 476.03,1097.21 476.90,1097.72 477.68,1098.02 478.31,1098.06 478.79,1097.79 479.11,1097.22 479.30,1096.39 479.39,1095.37 479.44,1094.25 479.49,1093.15 479.60,1092.16 479.81,1091.38 480.17,1090.88 480.68,1090.68 481.35,1090.78 482.15,1091.14 483.04,1091.67 483.98,1092.30 484.90,1092.89 485.75,1093.36 486.50,1093.61 487.10,1093.58 487.54,1093.25 487.83,1092.62 488.00,1091.73 488.07,1090.68 488.11,1089.56 488.17,1088.47 488.30,1087.52 488.54,1086.80 488.94,1086.36 489.48,1086.23 490.18,1086.39 491.01,1086.80 491.91,1087.36 492.85,1087.99 493.76,1088.57 494.60,1088.99 495.31,1089.19 495.88,1089.09 496.29,1088.69 496.55,1087.99 496.69,1087.07 496.75,1085.99 496.79,1084.86 496.86,1083.80 497.01,1082.89 497.28,1082.23 497.71,1081.86 498.29,1081.80 499.02,1082.02 499.87,1082.47 500.79,1083.06 501.72,1083.68 502.62,1084.23 503.43,1084.62 504.12,1084.75 504.65,1084.58 505.02,1084.11 505.25,1083.36 505.37,1082.39 505.43,1081.30 505.47,1080.17 505.55,1079.14 505.73,1078.28 506.03,1077.68 506.49,1077.38 507.11,1077.38 507.87,1077.66 508.74,1078.15 509.66,1078.75 510.59,1079.37 511.48,1079.89 512.26,1080.22 512.92,1080.29 513.41,1080.06 513.75,1079.52 513.95,1078.72 514.05,1077.71 514.10,1076.60" fill="none" stroke="#231f20" stroke-width="2.7" stroke-linejoin="round" stroke-linecap="round" />
<path d="M356.3,1090.4 C359,1087 361,1081 364,1081.2 C367,1081.4 367,1087 368,1090 C369,1093 374,1094 373.7,1095.5 C373.4,1097.5 371,1099 372.7,1099.6 C375,1100.5 379,1101.5 380.5,1103 C382.5,1105 383,1107 382.9,1108.8" fill="none" stroke="#a7a9ac" stroke-width="2.8"/>
<path d="M390,1120.5 C394,1121 399,1120.5 401.3,1121.1 C403.5,1121.8 404.5,1123 406.4,1124.1 C409,1125.5 413,1127.5 416.1,1128.7" fill="none" stroke="#a7a9ac" stroke-width="2.8"/>
<rect x="368.2" y="1107.8" width="28.1" height="14.4" fill="#e2202b" opacity="0.45"/>
<text x="382.2" y="1119.5" text-anchor="middle" font-size="14" font-weight="bold" fill="#7a2020" opacity="0.45" stroke="#7a2020" stroke-width="0.45">Arg</text>
<path d="M343.5,1084.5 C345.5,1087 346,1091 348.2,1092.5 C350,1093.8 351.5,1093.7 352.3,1093.5 C354,1093 355.5,1091.5 357,1090.5" fill="none" stroke="#231f20" stroke-width="2.7"/>
<path d="M308.6,1066.6 C309.5,1069 310.5,1072.5 313,1073.5 C315.5,1074.5 317,1073.5 319.5,1075" fill="none" stroke="#231f20" stroke-width="2.7" stroke-linecap="round"/>
<g transform="translate(330.60,1081.70) rotate(-18)"><rect x="-12.50" y="-9.00" width="25" height="18" rx="7" fill="#8dc63f" stroke="#231f20" stroke-width="1.2"/><text y="5.6" text-anchor="middle" font-size="16" font-weight="bold" fill="#231f20" stroke="#231f20" stroke-width="0.45">Cit</text></g>
<path d="M369,1075.6 C366,1062 352,1055 337,1064" fill="none" stroke="#231f20" stroke-width="1.4"/>
<polygon points="331.40,1067.60 336.08,1059.70 336.25,1064.80 340.58,1067.50" fill="#231f20" />
<path d="M356.20,1031.90 L385.55,1031.90 A13.65,13.65 0 0 1 385.55,1059.20 L361.20,1059.20 C358.60,1054.20 351.60,1050.70 345.10,1054.30 C342.10,1050.20 342.30,1043.20 343.10,1041.20 C344.60,1035.90 349.60,1031.90 356.20,1031.90 Z" fill="#8dc63f" stroke="#231f20" stroke-width="1.2"/>
<text x="374.00" y="1050.30" text-anchor="middle" font-size="15.5" font-weight="bold" fill="#231f20" textLength="38.5" lengthAdjust="spacingAndGlyphs" stroke="#231f20" stroke-width="0.45">PAD2</text>
<line x1="386.80" y1="1194.10" x2="366.95" y2="1194.10" stroke="#231f20" stroke-width="3.0" />
<polygon points="354.00,1194.10 372.50,1186.30 370.28,1194.10 372.50,1201.90" fill="#231f20" />
<line x1="441.50" y1="1194.10" x2="461.85" y2="1194.10" stroke="#231f20" stroke-width="3.0" />
<polygon points="474.80,1194.10 456.30,1201.90 458.52,1194.10 456.30,1186.30" fill="#231f20" />
<text x="414.65" y="1200.40" text-anchor="middle" font-size="14" font-weight="bold" fill="#231f20" textLength="45" lengthAdjust="spacingAndGlyphs" stroke="#231f20" stroke-width="0.45">147 bp</text>
<g opacity="1">
<g opacity="1"><ellipse cx="738.55" cy="908.00" rx="11.3" ry="10" fill="#fffbdc" stroke="#ebe6c8" stroke-width="1.1" transform="rotate(20 738.55 908.00)"/>
<text transform="translate(738.55,908.00) rotate(20)" y="5.04" text-anchor="middle" font-size="14" font-weight="bold" fill="#e1decd" stroke="#e1decd" stroke-width="0.45">E2</text>
</g>
<g opacity="1"><rect x="680.25" y="919.80" width="60.00" height="30.00" rx="15.00" fill="#fffbdc" stroke="#ebe6c8" stroke-width="1.1" stroke-opacity="1" transform="rotate(-66 710.25 934.80)"/>
<text transform="translate(710.25,934.80) rotate(-66)" y="5.58" text-anchor="middle" font-size="15.5" font-weight="bold" fill="#e1decd" stroke="#e1decd" stroke-width="0.45">ER</text>
</g>
<g opacity="1"><rect x="707.25" y="930.50" width="60.00" height="30.00" rx="15.00" fill="#fffbdc" stroke="#ebe6c8" stroke-width="1.1" stroke-opacity="1" transform="rotate(-66 737.25 945.50)"/>
<text transform="translate(737.25,945.50) rotate(-66)" y="5.58" text-anchor="middle" font-size="15.5" font-weight="bold" fill="#e1decd" stroke="#e1decd" stroke-width="0.45">ER</text>
</g>
</g>
<line x1="666.20" y1="1020.20" x2="687.07" y2="982.28" stroke="#231f20" stroke-width="1.5" />
<polygon points="691.80,973.70 691.18,989.34 686.74,982.90 678.92,982.59" fill="#231f20" />
<line x1="713.90" y1="983.50" x2="695.46" y2="1017.43" stroke="#231f20" stroke-width="6.8" />
<polygon points="685.10,1036.50 684.09,1000.67 697.09,1014.44 715.72,1017.86" fill="#231f20" />
<line x1="570" y1="1102.6" x2="759.4" y2="1102.6" stroke="#58595b" stroke-width="2.8"/>
<rect x="612.9" y="1085.5" width="102.8" height="76.5" rx="10" fill="#c0c0c3" stroke="#231f20" stroke-width="2.1"/>
<polyline points="613.50,1104.40 615.20,1103.97 616.89,1104.42 618.59,1105.70 620.28,1107.65 621.98,1110.05 623.67,1112.64 625.37,1115.13 627.06,1117.26 628.75,1118.77 630.45,1119.51 632.14,1119.37 633.84,1118.34 635.53,1116.49 637.23,1114.00 638.92,1111.07 640.62,1107.98 642.32,1105.01 644.01,1102.44 645.71,1100.48 647.40,1099.32 649.10,1099.04 650.79,1099.65 652.49,1101.06 654.18,1103.11 655.88,1105.56 657.57,1108.16 659.26,1110.60 660.96,1112.63 662.65,1114.03 664.35,1114.61 666.05,1114.31 667.74,1113.13 669.44,1111.16 671.13,1108.56 672.83,1105.59 674.52,1102.50 676.22,1099.58 677.91,1097.10 679.61,1095.28 681.30,1094.27 683.00,1094.15 684.69,1094.91 686.38,1096.45 688.08,1098.58 689.78,1101.08 691.47,1103.67 693.17,1106.06 694.86,1107.99 696.56,1109.25 698.25,1109.69 699.95,1109.23 701.64,1107.89 703.34,1105.80 705.03,1103.12 706.73,1100.10 708.42,1097.02 710.12,1094.16 711.81,1091.78 713.51,1090.09 715.20,1089.24" fill="none" stroke="#0c9a4b" stroke-width="3.3"/>
<polyline points="613.50,1120.02 615.20,1120.47 616.89,1121.76 618.59,1123.71 620.28,1126.11 621.98,1128.70 623.67,1131.19 625.37,1133.31 627.06,1134.83 628.75,1135.56 630.45,1135.42 632.14,1134.38 633.84,1132.54 635.53,1130.04 637.23,1127.11 638.92,1124.02 640.62,1121.05 642.32,1118.48 644.01,1116.53 645.71,1115.37 647.40,1115.09 649.10,1115.71 650.79,1117.12 652.49,1119.17 654.18,1121.62 655.88,1124.21 657.57,1126.66 659.26,1128.69 660.96,1130.08 662.65,1130.66 664.35,1130.36 666.05,1129.17 667.74,1127.20 669.44,1124.61 671.13,1121.63 672.83,1118.54 674.52,1115.62 676.22,1113.14 677.91,1111.32 679.61,1110.31 681.30,1110.20 683.00,1110.96 684.69,1112.50 686.38,1114.64 688.08,1117.14 689.78,1119.73 691.47,1122.12 693.17,1124.05 694.86,1125.31 696.56,1125.74 698.25,1125.27 699.95,1123.94 701.64,1121.84 703.34,1119.16 705.03,1116.14 706.73,1113.07 708.42,1110.21 710.12,1107.83 711.81,1106.14 713.51,1105.29 715.20,1105.33" fill="none" stroke="#0c9a4b" stroke-width="3.3"/>
<polyline points="612.00,1156.70 611.17,1156.19 610.38,1155.75 609.68,1155.46 609.09,1155.35 608.64,1155.46 608.33,1155.81 608.15,1156.38 608.09,1157.14 608.11,1158.04 608.17,1159.01 608.24,1159.98 608.26,1160.88 608.20,1161.64 608.02,1162.22 607.71,1162.56 607.26,1162.68 606.67,1162.57 605.97,1162.27 605.18,1161.83 604.35,1161.33 603.52,1160.82 602.73,1160.38 602.03,1160.08 601.44,1159.97 600.99,1160.09 600.68,1160.43 600.50,1161.01 600.44,1161.77 600.46,1162.67 600.52,1163.64 600.59,1164.61 600.61,1165.51 600.55,1166.27 600.37,1166.84 600.06,1167.19 599.61,1167.30 599.02,1167.19 598.32,1166.90 597.53,1166.46 596.70,1165.95 595.87,1165.44 595.08,1165.00 594.38,1164.71 593.79,1164.60 593.34,1164.71 593.03,1165.06 592.85,1165.63 592.79,1166.39 592.81,1167.29 592.88,1168.26 592.94,1169.23 592.96,1170.13 592.90,1170.89 592.72,1171.47 592.41,1171.81 591.96,1171.93 591.37,1171.82 590.67,1171.52 589.88,1171.08 589.05,1170.58 588.22,1170.07 587.43,1169.63 586.73,1169.33 586.14,1169.22 585.69,1169.34 585.38,1169.68 585.20,1170.26 585.14,1171.02 585.16,1171.92 585.23,1172.89 585.29,1173.86 585.31,1174.76 585.25,1175.52 585.07,1176.09 584.76,1176.44 584.31,1176.55 583.72,1176.44 583.02,1176.15 582.23,1175.71 581.40,1175.20" fill="none" stroke="#231f20" stroke-width="2.7" stroke-linejoin="round" stroke-linecap="round" />
<polyline points="717.00,1153.90 716.95,1154.89 716.95,1155.80 717.03,1156.58 717.23,1157.16 717.56,1157.53 718.04,1157.66 718.65,1157.57 719.38,1157.29 720.19,1156.88 721.05,1156.39 721.91,1155.90 722.72,1155.48 723.45,1155.20 724.06,1155.11 724.54,1155.25 724.87,1155.61 725.07,1156.20 725.15,1156.98 725.15,1157.89 725.10,1158.88 725.05,1159.86 725.05,1160.77 725.13,1161.55 725.33,1162.14 725.66,1162.50 726.14,1162.64 726.75,1162.55 727.48,1162.27 728.29,1161.85 729.15,1161.36 730.01,1160.87 730.82,1160.46 731.55,1160.18 732.16,1160.09 732.64,1160.22 732.97,1160.59 733.17,1161.17 733.25,1161.95 733.25,1162.86 733.20,1163.85 733.15,1164.84 733.15,1165.75 733.23,1166.53 733.43,1167.11 733.76,1167.48 734.24,1167.61 734.85,1167.52 735.58,1167.24 736.39,1166.83 737.25,1166.34 738.11,1165.85 738.92,1165.43 739.65,1165.15 740.26,1165.06 740.74,1165.20 741.07,1165.56 741.27,1166.15 741.35,1166.93 741.35,1167.84 741.30,1168.83 741.25,1169.81 741.25,1170.72 741.33,1171.50 741.53,1172.09 741.86,1172.45 742.34,1172.59 742.95,1172.50 743.68,1172.22 744.49,1171.80 745.35,1171.31 746.21,1170.82 747.02,1170.41 747.75,1170.13 748.36,1170.04 748.84,1170.17 749.17,1170.54 749.37,1171.12 749.45,1171.90 749.45,1172.81 749.40,1173.80" fill="none" stroke="#231f20" stroke-width="2.7" stroke-linejoin="round" stroke-linecap="round" />
<polyline points="717.00,1088.40 717.83,1088.90 718.62,1089.33 719.32,1089.62 719.90,1089.72 720.34,1089.61 720.64,1089.26 720.80,1088.69 720.84,1087.93 720.79,1087.04 720.70,1086.08 720.61,1085.11 720.56,1084.22 720.60,1083.46 720.76,1082.89 721.06,1082.54 721.50,1082.43 722.08,1082.53 722.78,1082.82 723.57,1083.25 724.40,1083.75 725.23,1084.25 726.02,1084.68 726.72,1084.97 727.30,1085.07 727.74,1084.96 728.04,1084.61 728.20,1084.04 728.24,1083.28 728.19,1082.39 728.10,1081.42 728.01,1080.46 727.96,1079.57 728.00,1078.81 728.16,1078.24 728.46,1077.89 728.90,1077.78 729.48,1077.88 730.18,1078.17 730.97,1078.60 731.80,1079.10 732.63,1079.60 733.42,1080.03 734.12,1080.32 734.70,1080.42 735.14,1080.31 735.44,1079.96 735.60,1079.39 735.64,1078.63 735.59,1077.74 735.50,1076.78 735.41,1075.81 735.36,1074.92 735.40,1074.16 735.56,1073.59 735.86,1073.24 736.30,1073.13 736.88,1073.23 737.58,1073.52 738.37,1073.95 739.20,1074.45 740.03,1074.95 740.82,1075.38 741.52,1075.67 742.10,1075.77 742.54,1075.66 742.84,1075.31 743.00,1074.74 743.04,1073.98 742.99,1073.09 742.90,1072.12 742.81,1071.16 742.76,1070.27 742.80,1069.51 742.96,1068.94 743.26,1068.59 743.70,1068.48 744.28,1068.58 744.98,1068.87 745.77,1069.30 746.60,1069.80" fill="none" stroke="#231f20" stroke-width="2.7" stroke-linejoin="round" stroke-linecap="round" />
<polyline points="602.50,1082.50 602.54,1082.79 602.59,1083.07 602.64,1083.34 602.69,1083.61 602.75,1083.87 602.82,1084.11 602.89,1084.34 602.98,1084.55 603.07,1084.74 603.17,1084.90 603.29,1085.05 603.42,1085.17 603.56,1085.26 603.71,1085.33 603.87,1085.38 604.05,1085.40 604.24,1085.40 604.44,1085.38 604.65,1085.33 604.87,1085.26 605.10,1085.18 605.33,1085.08 605.58,1084.97 605.82,1084.85 606.08,1084.72 606.33,1084.59 606.59,1084.45 606.84,1084.32 607.09,1084.19 607.34,1084.07 607.59,1083.95 607.83,1083.85 608.06,1083.76 608.28,1083.69 608.49,1083.64 608.70,1083.61 608.89,1083.60 609.07,1083.61 609.24,1083.65 609.39,1083.71 609.54,1083.80 609.67,1083.91 609.79,1084.05 609.90,1084.21 609.99,1084.39 610.08,1084.59 610.16,1084.81 610.23,1085.05 610.29,1085.30 610.34,1085.57 610.39,1085.84 610.44,1086.12 610.49,1086.40 610.53,1086.69 610.58,1086.97 610.62,1087.25 610.68,1087.52 610.73,1087.78 610.80,1088.03 610.87,1088.26 610.95,1088.48 611.04,1088.68 611.14,1088.85 611.25,1089.00 611.37,1089.13 611.51,1089.23 611.66,1089.31 611.82,1089.37 611.99,1089.40 612.17,1089.40 612.37,1089.39 612.58,1089.35 612.79,1089.29 613.02,1089.21 613.25,1089.12 613.49,1089.01 613.74,1088.89 613.99,1088.77 614.24,1088.64 614.50,1088.50" fill="none" stroke="#231f20" stroke-width="2.7" stroke-linejoin="round" stroke-linecap="round" />
<path d="M577.5,1065.5 C577,1069 578,1072 580,1074.5" fill="none" stroke="#231f20" stroke-width="2.8" stroke-linecap="round"/>
<g transform="translate(590.50,1081.20) rotate(-18)"><rect x="-12.50" y="-9.00" width="25" height="18" rx="7" fill="#8dc63f" stroke="#231f20" stroke-width="1.2"/><text y="5.6" text-anchor="middle" font-size="16" font-weight="bold" fill="#231f20" stroke="#231f20" stroke-width="0.45">Cit</text></g>
<g opacity="1">
<g opacity="1"><ellipse cx="659.50" cy="1049.90" rx="12" ry="9.2" fill="#ffec00" stroke="#231f20" stroke-width="1.1" transform="rotate(0 659.50 1049.90)"/>
<text transform="translate(659.50,1049.90) rotate(0)" y="5.04" text-anchor="middle" font-size="14" font-weight="normal" fill="#231f20">E2</text>
</g>
<g opacity="1"><rect x="616.25" y="1069.90" width="61.00" height="30.20" rx="15.10" fill="#ffec00" stroke="#231f20" stroke-width="1.1" stroke-opacity="1" transform="rotate(-88 646.75 1085.00)"/>
<text transform="translate(646.75,1085.00) rotate(-88)" y="5.33" text-anchor="middle" font-size="14.8" font-weight="bold" fill="#231f20" textLength="16.5" lengthAdjust="spacingAndGlyphs" stroke="#231f20" stroke-width="0.45">ER</text>
</g>
<g opacity="1"><rect x="644.85" y="1066.90" width="61.00" height="30.20" rx="15.10" fill="#ffec00" stroke="#231f20" stroke-width="1.1" stroke-opacity="1" transform="rotate(-88 675.35 1082.00)"/>
<text transform="translate(675.35,1082.00) rotate(-88)" y="5.33" text-anchor="middle" font-size="14.8" font-weight="bold" fill="#231f20" textLength="16.5" lengthAdjust="spacingAndGlyphs" stroke="#231f20" stroke-width="0.45">ER</text>
</g>
</g>
<path d="M596.40,1040.00 L625.75,1040.00 A13.65,13.65 0 0 1 625.75,1067.30 L601.40,1067.30 C598.80,1062.30 591.80,1058.80 585.30,1062.40 C582.30,1058.30 582.50,1051.30 583.30,1049.30 C584.80,1044.00 589.80,1040.00 596.40,1040.00 Z" fill="#8dc63f" stroke="#231f20" stroke-width="1.2"/>
<text x="614.20" y="1058.40" text-anchor="middle" font-size="15.5" font-weight="bold" fill="#231f20" textLength="38.5" lengthAdjust="spacingAndGlyphs" stroke="#231f20" stroke-width="0.45">PAD2</text>
<rect x="592.8" y="1179.5" width="146.1" height="25.1" fill="#39b54a"/>
<line x1="602.90" y1="1190.80" x2="623.16" y2="1190.80" stroke="#231f20" stroke-width="3.0" />
<polygon points="635.90,1190.80 617.70,1198.80 619.88,1190.80 617.70,1182.80" fill="#231f20" />
<line x1="730.30" y1="1190.80" x2="710.04" y2="1190.80" stroke="#231f20" stroke-width="3.0" />
<polygon points="697.30,1190.80 715.50,1182.80 713.32,1190.80 715.50,1198.80" fill="#231f20" />
<text x="666.6" y="1195.4" text-anchor="middle" font-size="14.3" font-weight="bold" fill="#231f20" textLength="45.6" lengthAdjust="spacingAndGlyphs" stroke="#231f20" stroke-width="0.45">120 bp</text>
<line x1="23.8" y1="1252.3" x2="722" y2="1252.3" stroke="#231f20" stroke-width="2.8"/>
<polygon points="720.7,1238.9 773,1252.6 720.7,1266.6" fill="#231f20"/>
<rect x="27.8" y="1301.1" width="33.3" height="14.8" fill="#e2202b"/>
<text x="44.4" y="1313" text-anchor="middle" font-size="13.5" font-weight="bold" fill="#3a1515" stroke="#3a1515" stroke-width="0.45">Arg</text>
<text x="71.70" y="1313.00" font-size="17.2" font-weight="bold" fill="#231f20" text-anchor="start" textLength="203.2" lengthAdjust="spacingAndGlyphs"  stroke="#231f20" stroke-width="0.45">Histone H3 Arginine 26</text>
<rect x="27.8" y="1335.6" width="27.4" height="16.6" rx="7" fill="#8dc63f" stroke="#231f20" stroke-width="1.2"/>
<text x="41.5" y="1348.6" text-anchor="middle" font-size="13.5" font-weight="bold" fill="#231f20" stroke="#231f20" stroke-width="0.45">Cit</text>
<text x="70.80" y="1349.80" font-size="17.2" font-weight="bold" fill="#231f20" text-anchor="start" textLength="207.6" lengthAdjust="spacingAndGlyphs"  stroke="#231f20" stroke-width="0.45">Histone H3 Citrulline 26</text>
<g opacity="1"><ellipse cx="349.60" cy="1303.00" rx="14.4" ry="12.2" fill="#ffec00" stroke="#231f20" stroke-width="1.2" transform="rotate(0 349.60 1303.00)"/>
<text transform="translate(349.60,1303.00) rotate(0)" y="5.76" text-anchor="middle" font-size="16" font-weight="bold" fill="#231f20" stroke="#231f20" stroke-width="0.45">E2</text>
</g>
<text x="391.80" y="1306.70" font-size="17.2" font-weight="bold" fill="#231f20" text-anchor="start" textLength="77.8" lengthAdjust="spacingAndGlyphs"  stroke="#231f20" stroke-width="0.45">Estrogen</text>
<rect x="319.1" y="1334" width="60.8" height="30.3" rx="15.1" fill="#ffec00" stroke="#231f20" stroke-width="1.2"/>
<text x="349.5" y="1354.2" text-anchor="middle" font-size="13" font-weight="bold" fill="#231f20" stroke="#231f20" stroke-width="0.45">ER</text>
<text x="391.80" y="1343.10" font-size="17.2" font-weight="bold" fill="#231f20" text-anchor="start" textLength="77.8" lengthAdjust="spacingAndGlyphs"  stroke="#231f20" stroke-width="0.45">Estrogen</text>
<text x="391.50" y="1366.70" font-size="17.2" font-weight="bold" fill="#231f20" text-anchor="start" textLength="78.6" lengthAdjust="spacingAndGlyphs"  stroke="#231f20" stroke-width="0.45">Receptor</text>
<rect x="529.2" y="1270.70" width="43.2" height="20.4" rx="10.2" fill="#fff596" stroke="#a9a27c" stroke-width="1.1"/>
<text x="551.2" y="1285.10" text-anchor="middle" font-size="11" font-weight="bold" fill="#9a9580" stroke="#9a9580" stroke-width="0.45">ER</text>
<rect x="529.2" y="1290.30" width="43.2" height="20.4" rx="10.2" fill="#fff596" stroke="#a9a27c" stroke-width="1.1"/>
<text x="551.2" y="1304.70" text-anchor="middle" font-size="11" font-weight="bold" fill="#9a9580" stroke="#9a9580" stroke-width="0.45">ER</text>
<g opacity="1"><ellipse cx="575.30" cy="1291.70" rx="6.8" ry="7.8" fill="#fff596" stroke="#a9a27c" stroke-width="1.0" transform="rotate(90 575.30 1291.70)"/>
<text transform="translate(575.30,1291.70) rotate(90)" y="3.24" text-anchor="middle" font-size="9" font-weight="normal" fill="#9a9580">E2</text>
</g>
<rect x="529.2" y="1330.50" width="43.2" height="20.4" rx="10.2" fill="#ffec00" stroke="#3a3520" stroke-width="1.1"/>
<text x="551.2" y="1344.90" text-anchor="middle" font-size="11" font-weight="bold" fill="#231f20" stroke="#231f20" stroke-width="0.45">ER</text>
<rect x="529.2" y="1350.10" width="43.2" height="20.4" rx="10.2" fill="#ffec00" stroke="#3a3520" stroke-width="1.1"/>
<text x="551.2" y="1364.50" text-anchor="middle" font-size="11" font-weight="bold" fill="#231f20" stroke="#231f20" stroke-width="0.45">ER</text>
<g opacity="1"><ellipse cx="575.30" cy="1351.50" rx="6.8" ry="7.8" fill="#ffec00" stroke="#3a3520" stroke-width="1.0" transform="rotate(90 575.30 1351.50)"/>
<text transform="translate(575.30,1351.50) rotate(90)" y="3.24" text-anchor="middle" font-size="9" font-weight="normal" fill="#231f20">E2</text>
</g>
<text x="595.60" y="1284.70" font-size="17.2" font-weight="bold" fill="#231f20" text-anchor="start" textLength="48.3" lengthAdjust="spacingAndGlyphs"  stroke="#231f20" stroke-width="0.45">Weak</text>
<text x="595.00" y="1308.10" font-size="17.2" font-weight="bold" fill="#231f20" text-anchor="start" textLength="69.2" lengthAdjust="spacingAndGlyphs"  stroke="#231f20" stroke-width="0.45">Binding</text>
<text x="595.00" y="1343.90" font-size="17.2" font-weight="bold" fill="#231f20" text-anchor="start" textLength="181.5" lengthAdjust="spacingAndGlyphs"  stroke="#231f20" stroke-width="0.45">H3R26Cit-Facilitated</text>
<text x="595.00" y="1367.30" font-size="17.2" font-weight="bold" fill="#231f20" text-anchor="start" textLength="69.2" lengthAdjust="spacingAndGlyphs"  stroke="#231f20" stroke-width="0.45">Binding</text>
</svg>
</body></html>
